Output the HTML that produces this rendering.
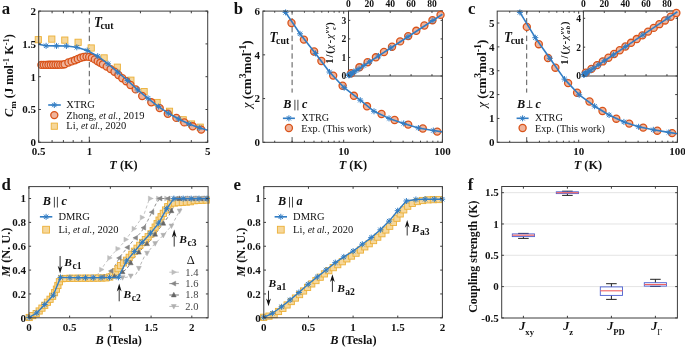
<!DOCTYPE html>
<html><head><meta charset="utf-8"><style>
html,body{margin:0;padding:0;background:#fff;}
body{width:685px;height:347px;overflow:hidden;font-family:"Liberation Serif",serif;}
svg{display:block;filter:blur(0.3px);}
</style></head><body>
<svg width="685" height="347" viewBox="0 0 685 347" font-family="'Liberation Serif', serif">
<rect width="685" height="347" fill="#fff"/>
<line x1="89.3" y1="11.1" x2="89.3" y2="142.3" stroke="#555" stroke-width="1.0" stroke-dasharray="5.4,3.4" stroke-dashoffset="1.8"/>
<rect x="35.2" y="36.6" width="6.2" height="6.2" fill="#f6d79a" stroke="#ebb038" stroke-width="0.9"/>
<rect x="48.7" y="36" width="6.2" height="6.2" fill="#f6d79a" stroke="#ebb038" stroke-width="0.9"/>
<rect x="61.7" y="37" width="6.2" height="6.2" fill="#f6d79a" stroke="#ebb038" stroke-width="0.9"/>
<rect x="75" y="39.2" width="6.2" height="6.2" fill="#f6d79a" stroke="#ebb038" stroke-width="0.9"/>
<rect x="88.1" y="44.9" width="6.2" height="6.2" fill="#f6d79a" stroke="#ebb038" stroke-width="0.9"/>
<rect x="101" y="54.8" width="6.2" height="6.2" fill="#f6d79a" stroke="#ebb038" stroke-width="0.9"/>
<rect x="114.2" y="64.1" width="6.2" height="6.2" fill="#f6d79a" stroke="#ebb038" stroke-width="0.9"/>
<rect x="127.8" y="77.1" width="6.2" height="6.2" fill="#f6d79a" stroke="#ebb038" stroke-width="0.9"/>
<rect x="141" y="88.5" width="6.2" height="6.2" fill="#f6d79a" stroke="#ebb038" stroke-width="0.9"/>
<rect x="154" y="99.4" width="6.2" height="6.2" fill="#f6d79a" stroke="#ebb038" stroke-width="0.9"/>
<rect x="166.4" y="108.2" width="6.2" height="6.2" fill="#f6d79a" stroke="#ebb038" stroke-width="0.9"/>
<rect x="180.1" y="116.7" width="6.2" height="6.2" fill="#f6d79a" stroke="#ebb038" stroke-width="0.9"/>
<rect x="188.4" y="120.9" width="6.2" height="6.2" fill="#f6d79a" stroke="#ebb038" stroke-width="0.9"/>
<rect x="197.1" y="124.1" width="6.2" height="6.2" fill="#f6d79a" stroke="#ebb038" stroke-width="0.9"/>
<circle cx="41.4" cy="64.9" r="3.55" fill="#efb49c" stroke="#d95319" stroke-width="1.3"/>
<circle cx="43.75" cy="64.87" r="3.55" fill="#efb49c" stroke="#d95319" stroke-width="1.3"/>
<circle cx="46.1" cy="64.84" r="3.55" fill="#efb49c" stroke="#d95319" stroke-width="1.3"/>
<circle cx="48.45" cy="64.81" r="3.55" fill="#efb49c" stroke="#d95319" stroke-width="1.3"/>
<circle cx="50.8" cy="64.78" r="3.55" fill="#efb49c" stroke="#d95319" stroke-width="1.3"/>
<circle cx="53.15" cy="64.75" r="3.55" fill="#efb49c" stroke="#d95319" stroke-width="1.3"/>
<circle cx="55.5" cy="64.72" r="3.55" fill="#efb49c" stroke="#d95319" stroke-width="1.3"/>
<circle cx="57.85" cy="64.69" r="3.55" fill="#efb49c" stroke="#d95319" stroke-width="1.3"/>
<circle cx="60.2" cy="64.66" r="3.55" fill="#efb49c" stroke="#d95319" stroke-width="1.3"/>
<circle cx="62.55" cy="64.63" r="3.55" fill="#efb49c" stroke="#d95319" stroke-width="1.3"/>
<circle cx="64.6" cy="64.2" r="3.55" fill="#efb49c" stroke="#d95319" stroke-width="1.3"/>
<circle cx="68.4" cy="62.5" r="3.55" fill="#efb49c" stroke="#d95319" stroke-width="1.3"/>
<circle cx="71.6" cy="61.4" r="3.55" fill="#efb49c" stroke="#d95319" stroke-width="1.3"/>
<circle cx="74.9" cy="60.3" r="3.55" fill="#efb49c" stroke="#d95319" stroke-width="1.3"/>
<circle cx="77.8" cy="59" r="3.55" fill="#efb49c" stroke="#d95319" stroke-width="1.3"/>
<circle cx="80.7" cy="57.8" r="3.55" fill="#efb49c" stroke="#d95319" stroke-width="1.3"/>
<circle cx="83.6" cy="57" r="3.55" fill="#efb49c" stroke="#d95319" stroke-width="1.3"/>
<circle cx="86.5" cy="56.6" r="3.55" fill="#efb49c" stroke="#d95319" stroke-width="1.3"/>
<circle cx="89.2" cy="56.9" r="3.55" fill="#efb49c" stroke="#d95319" stroke-width="1.3"/>
<circle cx="91.9" cy="57.8" r="3.55" fill="#efb49c" stroke="#d95319" stroke-width="1.3"/>
<circle cx="94.8" cy="59.4" r="3.55" fill="#efb49c" stroke="#d95319" stroke-width="1.3"/>
<circle cx="97.7" cy="61.2" r="3.55" fill="#efb49c" stroke="#d95319" stroke-width="1.3"/>
<circle cx="100.3" cy="62.8" r="3.55" fill="#efb49c" stroke="#d95319" stroke-width="1.3"/>
<circle cx="102.9" cy="64.3" r="3.55" fill="#efb49c" stroke="#d95319" stroke-width="1.3"/>
<circle cx="106.7" cy="66.6" r="3.55" fill="#efb49c" stroke="#d95319" stroke-width="1.3"/>
<circle cx="110.6" cy="69.1" r="3.55" fill="#efb49c" stroke="#d95319" stroke-width="1.3"/>
<circle cx="114.5" cy="71.7" r="3.55" fill="#efb49c" stroke="#d95319" stroke-width="1.3"/>
<circle cx="118.4" cy="75" r="3.55" fill="#efb49c" stroke="#d95319" stroke-width="1.3"/>
<circle cx="122.3" cy="78.2" r="3.55" fill="#efb49c" stroke="#d95319" stroke-width="1.3"/>
<circle cx="126.2" cy="81.2" r="3.55" fill="#efb49c" stroke="#d95319" stroke-width="1.3"/>
<circle cx="130.5" cy="85" r="3.55" fill="#efb49c" stroke="#d95319" stroke-width="1.3"/>
<circle cx="135.7" cy="89.4" r="3.55" fill="#efb49c" stroke="#d95319" stroke-width="1.3"/>
<circle cx="142.2" cy="96" r="3.55" fill="#efb49c" stroke="#d95319" stroke-width="1.3"/>
<circle cx="151.3" cy="102.3" r="3.55" fill="#efb49c" stroke="#d95319" stroke-width="1.3"/>
<circle cx="159.7" cy="108.1" r="3.55" fill="#efb49c" stroke="#d95319" stroke-width="1.3"/>
<circle cx="167.8" cy="113.8" r="3.55" fill="#efb49c" stroke="#d95319" stroke-width="1.3"/>
<circle cx="176.4" cy="117.9" r="3.55" fill="#efb49c" stroke="#d95319" stroke-width="1.3"/>
<circle cx="184.3" cy="122.4" r="3.55" fill="#efb49c" stroke="#d95319" stroke-width="1.3"/>
<circle cx="192.7" cy="126.3" r="3.55" fill="#efb49c" stroke="#d95319" stroke-width="1.3"/>
<circle cx="201.2" cy="129.6" r="3.55" fill="#efb49c" stroke="#d95319" stroke-width="1.3"/>
<polyline points="38.5,44.2 46.1,45.8 56.5,45.9 66.4,46 76.8,47.3 87.2,50.5 97.7,56.2 108,63.8 117.7,72.1 127.6,80.5 137.7,89.9 148,98.3 158.4,106.6 168.3,113.2 178.7,119 189,124 199.2,127.8 207.8,130.3" fill="none" stroke="#327dc4" stroke-width="1.6" stroke-linejoin="round" />
<path d="M43.1,45.8h6M46.1,42.8v6M43.94,43.64l4.32,4.32M43.94,47.96l4.32,-4.32" stroke="#327dc4" stroke-width="1.0" fill="none"/>
<path d="M53.5,45.9h6M56.5,42.9v6M54.34,43.74l4.32,4.32M54.34,48.06l4.32,-4.32" stroke="#327dc4" stroke-width="1.0" fill="none"/>
<path d="M63.4,46h6M66.4,43v6M64.24,43.84l4.32,4.32M64.24,48.16l4.32,-4.32" stroke="#327dc4" stroke-width="1.0" fill="none"/>
<path d="M73.8,47.3h6M76.8,44.3v6M74.64,45.14l4.32,4.32M74.64,49.46l4.32,-4.32" stroke="#327dc4" stroke-width="1.0" fill="none"/>
<path d="M84.2,50.5h6M87.2,47.5v6M85.04,48.34l4.32,4.32M85.04,52.66l4.32,-4.32" stroke="#327dc4" stroke-width="1.0" fill="none"/>
<path d="M94.7,56.2h6M97.7,53.2v6M95.54,54.04l4.32,4.32M95.54,58.36l4.32,-4.32" stroke="#327dc4" stroke-width="1.0" fill="none"/>
<path d="M105,63.8h6M108,60.8v6M105.84,61.64l4.32,4.32M105.84,65.96l4.32,-4.32" stroke="#327dc4" stroke-width="1.0" fill="none"/>
<path d="M114.7,72.1h6M117.7,69.1v6M115.54,69.94l4.32,4.32M115.54,74.26l4.32,-4.32" stroke="#327dc4" stroke-width="1.0" fill="none"/>
<path d="M124.6,80.5h6M127.6,77.5v6M125.44,78.34l4.32,4.32M125.44,82.66l4.32,-4.32" stroke="#327dc4" stroke-width="1.0" fill="none"/>
<path d="M134.7,89.9h6M137.7,86.9v6M135.54,87.74l4.32,4.32M135.54,92.06l4.32,-4.32" stroke="#327dc4" stroke-width="1.0" fill="none"/>
<path d="M145,98.3h6M148,95.3v6M145.84,96.14l4.32,4.32M145.84,100.46l4.32,-4.32" stroke="#327dc4" stroke-width="1.0" fill="none"/>
<path d="M155.4,106.6h6M158.4,103.6v6M156.24,104.44l4.32,4.32M156.24,108.76l4.32,-4.32" stroke="#327dc4" stroke-width="1.0" fill="none"/>
<path d="M165.3,113.2h6M168.3,110.2v6M166.14,111.04l4.32,4.32M166.14,115.36l4.32,-4.32" stroke="#327dc4" stroke-width="1.0" fill="none"/>
<path d="M175.7,119h6M178.7,116v6M176.54,116.84l4.32,4.32M176.54,121.16l4.32,-4.32" stroke="#327dc4" stroke-width="1.0" fill="none"/>
<path d="M186,124h6M189,121v6M186.84,121.84l4.32,4.32M186.84,126.16l4.32,-4.32" stroke="#327dc4" stroke-width="1.0" fill="none"/>
<path d="M196.2,127.8h6M199.2,124.8v6M197.04,125.64l4.32,4.32M197.04,129.96l4.32,-4.32" stroke="#327dc4" stroke-width="1.0" fill="none"/>
<rect x="86" y="94.6" width="6" height="42" fill="#fff"/>
<line x1="89.3" y1="137.2" x2="89.3" y2="142" stroke="#555" stroke-width="1.0" />
<rect x="38.7" y="11.1" width="169" height="131.2" fill="none" stroke="#3c3c3c" stroke-width="1.0"/>
<line x1="38.7" y1="142.3" x2="38.7" y2="140.1" stroke="#3c3c3c" stroke-width="1.0" />
<line x1="38.7" y1="11.1" x2="38.7" y2="13.3" stroke="#3c3c3c" stroke-width="1.0" />
<line x1="52.08" y1="142.3" x2="52.08" y2="140.1" stroke="#3c3c3c" stroke-width="1.0" />
<line x1="52.08" y1="11.1" x2="52.08" y2="13.3" stroke="#3c3c3c" stroke-width="1.0" />
<line x1="63.4" y1="142.3" x2="63.4" y2="140.1" stroke="#3c3c3c" stroke-width="1.0" />
<line x1="63.4" y1="11.1" x2="63.4" y2="13.3" stroke="#3c3c3c" stroke-width="1.0" />
<line x1="73.2" y1="142.3" x2="73.2" y2="140.1" stroke="#3c3c3c" stroke-width="1.0" />
<line x1="73.2" y1="11.1" x2="73.2" y2="13.3" stroke="#3c3c3c" stroke-width="1.0" />
<line x1="81.84" y1="142.3" x2="81.84" y2="140.1" stroke="#3c3c3c" stroke-width="1.0" />
<line x1="81.84" y1="11.1" x2="81.84" y2="13.3" stroke="#3c3c3c" stroke-width="1.0" />
<line x1="89.57" y1="142.3" x2="89.57" y2="140.1" stroke="#3c3c3c" stroke-width="1.0" />
<line x1="89.57" y1="11.1" x2="89.57" y2="13.3" stroke="#3c3c3c" stroke-width="1.0" />
<line x1="140.45" y1="142.3" x2="140.45" y2="140.1" stroke="#3c3c3c" stroke-width="1.0" />
<line x1="140.45" y1="11.1" x2="140.45" y2="13.3" stroke="#3c3c3c" stroke-width="1.0" />
<line x1="170.21" y1="142.3" x2="170.21" y2="140.1" stroke="#3c3c3c" stroke-width="1.0" />
<line x1="170.21" y1="11.1" x2="170.21" y2="13.3" stroke="#3c3c3c" stroke-width="1.0" />
<line x1="191.32" y1="142.3" x2="191.32" y2="140.1" stroke="#3c3c3c" stroke-width="1.0" />
<line x1="191.32" y1="11.1" x2="191.32" y2="13.3" stroke="#3c3c3c" stroke-width="1.0" />
<line x1="207.7" y1="142.3" x2="207.7" y2="140.1" stroke="#3c3c3c" stroke-width="1.0" />
<line x1="207.7" y1="11.1" x2="207.7" y2="13.3" stroke="#3c3c3c" stroke-width="1.0" />
<line x1="38.7" y1="142.3" x2="40.9" y2="142.3" stroke="#3c3c3c" stroke-width="1.0" />
<line x1="207.7" y1="142.3" x2="205.5" y2="142.3" stroke="#3c3c3c" stroke-width="1.0" />
<line x1="38.7" y1="109.5" x2="40.9" y2="109.5" stroke="#3c3c3c" stroke-width="1.0" />
<line x1="207.7" y1="109.5" x2="205.5" y2="109.5" stroke="#3c3c3c" stroke-width="1.0" />
<line x1="38.7" y1="76.7" x2="40.9" y2="76.7" stroke="#3c3c3c" stroke-width="1.0" />
<line x1="207.7" y1="76.7" x2="205.5" y2="76.7" stroke="#3c3c3c" stroke-width="1.0" />
<line x1="38.7" y1="43.9" x2="40.9" y2="43.9" stroke="#3c3c3c" stroke-width="1.0" />
<line x1="207.7" y1="43.9" x2="205.5" y2="43.9" stroke="#3c3c3c" stroke-width="1.0" />
<line x1="38.7" y1="11.1" x2="40.9" y2="11.1" stroke="#3c3c3c" stroke-width="1.0" />
<line x1="207.7" y1="11.1" x2="205.5" y2="11.1" stroke="#3c3c3c" stroke-width="1.0" />
<text x="38.7" y="155" font-size="11" text-anchor="middle" font-weight="bold" font-style="normal" fill="#111" >0.5</text>
<text x="89.57" y="155" font-size="11" text-anchor="middle" font-weight="bold" font-style="normal" fill="#111" >1</text>
<text x="207.7" y="155" font-size="11" text-anchor="middle" font-weight="bold" font-style="normal" fill="#111" >5</text>
<text x="35.9" y="146.1" font-size="11" text-anchor="end" font-weight="bold" font-style="normal" fill="#111" >0</text>
<text x="35.9" y="113.3" font-size="11" text-anchor="end" font-weight="bold" font-style="normal" fill="#111" >0.5</text>
<text x="35.9" y="80.5" font-size="11" text-anchor="end" font-weight="bold" font-style="normal" fill="#111" >1</text>
<text x="35.9" y="47.7" font-size="11" text-anchor="end" font-weight="bold" font-style="normal" fill="#111" >1.5</text>
<text x="35.9" y="14.9" font-size="11" text-anchor="end" font-weight="bold" font-style="normal" fill="#111" >2</text>
<polyline points="48.2,105 60.8,105" fill="none" stroke="#327dc4" stroke-width="1.6" stroke-linejoin="round" />
<path d="M51.3,105h6M54.3,102v6M52.14,102.84l4.32,4.32M52.14,107.16l4.32,-4.32" stroke="#327dc4" stroke-width="1.0" fill="none"/>
<circle cx="54.3" cy="115.1" r="3.55" fill="#efb49c" stroke="#d95319" stroke-width="1.3"/>
<rect x="51.2" y="123.1" width="6.2" height="6.2" fill="#f6d79a" stroke="#ebb038" stroke-width="0.9"/>
<text x="66.3" y="108.3" font-size="10.5" text-anchor="start" font-weight="normal" font-style="normal" fill="#111" >XTRG</text>
<text x="66.3" y="118.7" font-size="10.5" text-anchor="start" font-weight="normal" font-style="normal" fill="#111" >Zhong, <tspan font-style="italic" font-size="9.6">et al.</tspan>, 2019</text>
<text x="66.3" y="128.9" font-size="10.5" text-anchor="start" font-weight="normal" font-style="normal" fill="#111" >Li, <tspan font-style="italic" font-size="9.6">et al.</tspan>, 2020</text>
<text transform="translate(93.9,26.7) scale(0.87,1)" font-size="15" font-weight="bold" font-style="italic" fill="#111">T</text>
<text x="100.5" y="28.9" font-size="9.8" text-anchor="start" font-weight="bold" font-style="normal" fill="#111" >cut</text>
<text x="1.8" y="14" font-size="16.8" text-anchor="start" font-weight="bold" font-style="normal" fill="#111" >a</text>
<text x="123.5" y="168.6" font-size="12.3" text-anchor="middle" font-weight="bold" font-style="normal" fill="#111" ><tspan font-style="italic">T</tspan> (K)</text>
<text transform="translate(13.2,75.5) rotate(-90)" font-size="12.3" font-weight="bold" text-anchor="middle" fill="#111"><tspan font-style="italic">C</tspan><tspan font-size="9" dy="2.8">m</tspan><tspan dy="-2.8"> (J mol</tspan><tspan font-size="8.5" dy="-4.5">-1</tspan><tspan dy="4.5"> K</tspan><tspan font-size="8.5" dy="-4.5">-1</tspan><tspan dy="4.5">)</tspan></text>
<line x1="292.1" y1="11.1" x2="292.1" y2="142.3" stroke="#555" stroke-width="1.0" stroke-dasharray="5.4,3.4" stroke-dashoffset="1.8"/>
<circle cx="291.5" cy="23" r="3.55" fill="#efb49c" stroke="#d95319" stroke-width="1.3"/>
<circle cx="303.9" cy="39.6" r="3.55" fill="#efb49c" stroke="#d95319" stroke-width="1.3"/>
<circle cx="314.1" cy="51.5" r="3.55" fill="#efb49c" stroke="#d95319" stroke-width="1.3"/>
<circle cx="321.4" cy="61" r="3.55" fill="#efb49c" stroke="#d95319" stroke-width="1.3"/>
<circle cx="333.2" cy="75.6" r="3.55" fill="#efb49c" stroke="#d95319" stroke-width="1.3"/>
<circle cx="342.6" cy="85.7" r="3.55" fill="#efb49c" stroke="#d95319" stroke-width="1.3"/>
<circle cx="353.9" cy="95.8" r="3.55" fill="#efb49c" stroke="#d95319" stroke-width="1.3"/>
<circle cx="367" cy="106.3" r="3.55" fill="#efb49c" stroke="#d95319" stroke-width="1.3"/>
<circle cx="381.5" cy="114" r="3.55" fill="#efb49c" stroke="#d95319" stroke-width="1.3"/>
<circle cx="394.6" cy="120" r="3.55" fill="#efb49c" stroke="#d95319" stroke-width="1.3"/>
<circle cx="408.2" cy="124.6" r="3.55" fill="#efb49c" stroke="#d95319" stroke-width="1.3"/>
<circle cx="422.8" cy="128.5" r="3.55" fill="#efb49c" stroke="#d95319" stroke-width="1.3"/>
<circle cx="437.2" cy="131.6" r="3.55" fill="#efb49c" stroke="#d95319" stroke-width="1.3"/>
<polyline points="283.9,10.8 285.6,12.4 300,33.8 315.5,53.4 329.5,72 344.2,87.7 360.3,100.2 374,111.3 389,118.4 403.7,123.4 418.4,128 433.3,130.5 442.4,131.88" fill="none" stroke="#327dc4" stroke-width="1.6" stroke-linejoin="round" />
<path d="M282.6,12.4h6M285.6,9.4v6M283.44,10.24l4.32,4.32M283.44,14.56l4.32,-4.32" stroke="#327dc4" stroke-width="1.0" fill="none"/>
<path d="M297,33.8h6M300,30.8v6M297.84,31.64l4.32,4.32M297.84,35.96l4.32,-4.32" stroke="#327dc4" stroke-width="1.0" fill="none"/>
<path d="M312.5,53.4h6M315.5,50.4v6M313.34,51.24l4.32,4.32M313.34,55.56l4.32,-4.32" stroke="#327dc4" stroke-width="1.0" fill="none"/>
<path d="M326.5,72h6M329.5,69v6M327.34,69.84l4.32,4.32M327.34,74.16l4.32,-4.32" stroke="#327dc4" stroke-width="1.0" fill="none"/>
<path d="M341.2,87.7h6M344.2,84.7v6M342.04,85.54l4.32,4.32M342.04,89.86l4.32,-4.32" stroke="#327dc4" stroke-width="1.0" fill="none"/>
<path d="M357.3,100.2h6M360.3,97.2v6M358.14,98.04l4.32,4.32M358.14,102.36l4.32,-4.32" stroke="#327dc4" stroke-width="1.0" fill="none"/>
<path d="M371,111.3h6M374,108.3v6M371.84,109.14l4.32,4.32M371.84,113.46l4.32,-4.32" stroke="#327dc4" stroke-width="1.0" fill="none"/>
<path d="M386,118.4h6M389,115.4v6M386.84,116.24l4.32,4.32M386.84,120.56l4.32,-4.32" stroke="#327dc4" stroke-width="1.0" fill="none"/>
<path d="M400.7,123.4h6M403.7,120.4v6M401.54,121.24l4.32,4.32M401.54,125.56l4.32,-4.32" stroke="#327dc4" stroke-width="1.0" fill="none"/>
<path d="M415.4,128h6M418.4,125v6M416.24,125.84l4.32,4.32M416.24,130.16l4.32,-4.32" stroke="#327dc4" stroke-width="1.0" fill="none"/>
<path d="M430.3,130.5h6M433.3,127.5v6M431.14,128.34l4.32,4.32M431.14,132.66l4.32,-4.32" stroke="#327dc4" stroke-width="1.0" fill="none"/>
<rect x="289.1" y="92.6" width="6" height="45" fill="#fff"/>
<line x1="292.1" y1="137.3" x2="292.1" y2="142" stroke="#555" stroke-width="1.0" />
<rect x="262.9" y="11.1" width="179.5" height="131.2" fill="none" stroke="#3c3c3c" stroke-width="1.0"/>
<line x1="274.71" y1="142.3" x2="274.71" y2="140.7" stroke="#3c3c3c" stroke-width="1.0" />
<line x1="274.71" y1="11.1" x2="274.71" y2="12.7" stroke="#3c3c3c" stroke-width="1.0" />
<line x1="292.09" y1="142.3" x2="292.09" y2="140.7" stroke="#3c3c3c" stroke-width="1.0" />
<line x1="292.09" y1="11.1" x2="292.09" y2="12.7" stroke="#3c3c3c" stroke-width="1.0" />
<line x1="304.42" y1="142.3" x2="304.42" y2="140.7" stroke="#3c3c3c" stroke-width="1.0" />
<line x1="304.42" y1="11.1" x2="304.42" y2="12.7" stroke="#3c3c3c" stroke-width="1.0" />
<line x1="313.99" y1="142.3" x2="313.99" y2="140.7" stroke="#3c3c3c" stroke-width="1.0" />
<line x1="313.99" y1="11.1" x2="313.99" y2="12.7" stroke="#3c3c3c" stroke-width="1.0" />
<line x1="321.8" y1="142.3" x2="321.8" y2="140.7" stroke="#3c3c3c" stroke-width="1.0" />
<line x1="321.8" y1="11.1" x2="321.8" y2="12.7" stroke="#3c3c3c" stroke-width="1.0" />
<line x1="328.41" y1="142.3" x2="328.41" y2="140.7" stroke="#3c3c3c" stroke-width="1.0" />
<line x1="328.41" y1="11.1" x2="328.41" y2="12.7" stroke="#3c3c3c" stroke-width="1.0" />
<line x1="334.13" y1="142.3" x2="334.13" y2="140.7" stroke="#3c3c3c" stroke-width="1.0" />
<line x1="334.13" y1="11.1" x2="334.13" y2="12.7" stroke="#3c3c3c" stroke-width="1.0" />
<line x1="339.18" y1="142.3" x2="339.18" y2="140.7" stroke="#3c3c3c" stroke-width="1.0" />
<line x1="339.18" y1="11.1" x2="339.18" y2="12.7" stroke="#3c3c3c" stroke-width="1.0" />
<line x1="373.41" y1="142.3" x2="373.41" y2="140.7" stroke="#3c3c3c" stroke-width="1.0" />
<line x1="373.41" y1="11.1" x2="373.41" y2="12.7" stroke="#3c3c3c" stroke-width="1.0" />
<line x1="390.79" y1="142.3" x2="390.79" y2="140.7" stroke="#3c3c3c" stroke-width="1.0" />
<line x1="390.79" y1="11.1" x2="390.79" y2="12.7" stroke="#3c3c3c" stroke-width="1.0" />
<line x1="403.12" y1="142.3" x2="403.12" y2="140.7" stroke="#3c3c3c" stroke-width="1.0" />
<line x1="403.12" y1="11.1" x2="403.12" y2="12.7" stroke="#3c3c3c" stroke-width="1.0" />
<line x1="412.69" y1="142.3" x2="412.69" y2="140.7" stroke="#3c3c3c" stroke-width="1.0" />
<line x1="412.69" y1="11.1" x2="412.69" y2="12.7" stroke="#3c3c3c" stroke-width="1.0" />
<line x1="420.5" y1="142.3" x2="420.5" y2="140.7" stroke="#3c3c3c" stroke-width="1.0" />
<line x1="420.5" y1="11.1" x2="420.5" y2="12.7" stroke="#3c3c3c" stroke-width="1.0" />
<line x1="427.11" y1="142.3" x2="427.11" y2="140.7" stroke="#3c3c3c" stroke-width="1.0" />
<line x1="427.11" y1="11.1" x2="427.11" y2="12.7" stroke="#3c3c3c" stroke-width="1.0" />
<line x1="432.83" y1="142.3" x2="432.83" y2="140.7" stroke="#3c3c3c" stroke-width="1.0" />
<line x1="432.83" y1="11.1" x2="432.83" y2="12.7" stroke="#3c3c3c" stroke-width="1.0" />
<line x1="437.88" y1="142.3" x2="437.88" y2="140.7" stroke="#3c3c3c" stroke-width="1.0" />
<line x1="437.88" y1="11.1" x2="437.88" y2="12.7" stroke="#3c3c3c" stroke-width="1.0" />
<line x1="343.7" y1="142.3" x2="343.7" y2="139.7" stroke="#3c3c3c" stroke-width="1.0" />
<line x1="343.7" y1="11.1" x2="343.7" y2="13.7" stroke="#3c3c3c" stroke-width="1.0" />
<line x1="442.4" y1="142.3" x2="442.4" y2="139.7" stroke="#3c3c3c" stroke-width="1.0" />
<line x1="442.4" y1="11.1" x2="442.4" y2="13.7" stroke="#3c3c3c" stroke-width="1.0" />
<line x1="262.9" y1="142.3" x2="265.1" y2="142.3" stroke="#3c3c3c" stroke-width="1.0" />
<line x1="442.4" y1="142.3" x2="440.2" y2="142.3" stroke="#3c3c3c" stroke-width="1.0" />
<line x1="262.9" y1="98.57" x2="265.1" y2="98.57" stroke="#3c3c3c" stroke-width="1.0" />
<line x1="442.4" y1="98.57" x2="440.2" y2="98.57" stroke="#3c3c3c" stroke-width="1.0" />
<line x1="262.9" y1="54.83" x2="265.1" y2="54.83" stroke="#3c3c3c" stroke-width="1.0" />
<line x1="442.4" y1="54.83" x2="440.2" y2="54.83" stroke="#3c3c3c" stroke-width="1.0" />
<line x1="262.9" y1="11.1" x2="265.1" y2="11.1" stroke="#3c3c3c" stroke-width="1.0" />
<line x1="442.4" y1="11.1" x2="440.2" y2="11.1" stroke="#3c3c3c" stroke-width="1.0" />
<text x="343.7" y="155.3" font-size="11" text-anchor="middle" font-weight="bold" font-style="normal" fill="#111" >10</text>
<text x="442.4" y="155.3" font-size="11" text-anchor="middle" font-weight="bold" font-style="normal" fill="#111" >100</text>
<text x="260.1" y="146.1" font-size="11" text-anchor="end" font-weight="bold" font-style="normal" fill="#111" >0</text>
<text x="260.1" y="102.37" font-size="11" text-anchor="end" font-weight="bold" font-style="normal" fill="#111" >2</text>
<text x="260.1" y="58.63" font-size="11" text-anchor="end" font-weight="bold" font-style="normal" fill="#111" >4</text>
<text x="260.1" y="14.9" font-size="11" text-anchor="end" font-weight="bold" font-style="normal" fill="#111" >6</text>
<text x="352.9" y="168.6" font-size="12.3" text-anchor="middle" font-weight="bold" font-style="normal" fill="#111" ><tspan font-style="italic">T</tspan> (K)</text>
<text transform="translate(269.5,41.8) scale(0.87,1)" font-size="15" font-weight="bold" font-style="italic" fill="#111">T</text>
<text x="276.1" y="44" font-size="9.8" text-anchor="start" font-weight="bold" font-style="normal" fill="#111" >cut</text>
<text x="283.3" y="107.8" font-size="12.2" text-anchor="start" font-weight="bold" font-style="italic" fill="#111" >B</text>
<line x1="294.9" y1="99.8" x2="294.9" y2="110.4" stroke="#333" stroke-width="0.9" />
<line x1="297.9" y1="99.8" x2="297.9" y2="110.4" stroke="#333" stroke-width="0.9" />
<text x="301.9" y="107.8" font-size="12.2" text-anchor="start" font-weight="bold" font-style="italic" fill="#111" >c</text>
<polyline points="282.9,118.3 294.9,118.3" fill="none" stroke="#327dc4" stroke-width="1.6" stroke-linejoin="round" />
<path d="M285.9,118.3h6M288.9,115.3v6M286.74,116.14l4.32,4.32M286.74,120.46l4.32,-4.32" stroke="#327dc4" stroke-width="1.0" fill="none"/>
<circle cx="288.9" cy="128" r="3.55" fill="#efb49c" stroke="#d95319" stroke-width="1.3"/>
<text x="301.3" y="121.2" font-size="10.2" text-anchor="start" font-weight="normal" font-style="normal" fill="#111" >XTRG</text>
<text x="301.3" y="131.6" font-size="10.2" text-anchor="start" font-weight="normal" font-style="normal" fill="#111" >Exp. (This work)</text>
<text x="233.7" y="14.2" font-size="16.8" text-anchor="start" font-weight="bold" font-style="normal" fill="#111" >b</text>
<text transform="translate(251.2,74.3) rotate(-90)" font-size="13" font-weight="bold" text-anchor="middle" fill="#111"><tspan font-style="italic" font-weight="normal" font-size="13">χ</tspan> (cm<tspan font-size="9.5" dy="-5">3</tspan><tspan dy="5">mol</tspan><tspan font-size="9.5" dy="-5">-1</tspan><tspan dy="5">)</tspan></text>
<rect x="348.5" y="11.1" width="93.9" height="64.9" fill="#fff" stroke="#3c3c3c" stroke-width="1.0"/>
<circle cx="351.2" cy="73.3" r="3.55" fill="#efb49c" stroke="#d95319" stroke-width="1.3"/>
<circle cx="359.4" cy="67.3" r="3.55" fill="#efb49c" stroke="#d95319" stroke-width="1.3"/>
<circle cx="367.6" cy="62.2" r="3.55" fill="#efb49c" stroke="#d95319" stroke-width="1.3"/>
<circle cx="375.9" cy="57.3" r="3.55" fill="#efb49c" stroke="#d95319" stroke-width="1.3"/>
<circle cx="383.98" cy="52" r="3.55" fill="#efb49c" stroke="#d95319" stroke-width="1.3"/>
<circle cx="392.06" cy="46.7" r="3.55" fill="#efb49c" stroke="#d95319" stroke-width="1.3"/>
<circle cx="400.14" cy="41.4" r="3.55" fill="#efb49c" stroke="#d95319" stroke-width="1.3"/>
<circle cx="408.22" cy="36.1" r="3.55" fill="#efb49c" stroke="#d95319" stroke-width="1.3"/>
<circle cx="416.3" cy="30.8" r="3.55" fill="#efb49c" stroke="#d95319" stroke-width="1.3"/>
<circle cx="424.38" cy="25.5" r="3.55" fill="#efb49c" stroke="#d95319" stroke-width="1.3"/>
<circle cx="432.46" cy="20.2" r="3.55" fill="#efb49c" stroke="#d95319" stroke-width="1.3"/>
<circle cx="440.54" cy="14.9" r="3.55" fill="#efb49c" stroke="#d95319" stroke-width="1.3"/>
<polyline points="348.5,75.53 348.81,75.33 349.13,75.12 349.54,74.85 350.06,74.51 350.59,74.17 351.19,73.78 352.26,73.08 353.89,72.01 356.01,70.63 359.04,68.66 363.84,65.53 369.68,61.72 378.55,55.93 390.75,47.97 407.97,36.74 432.91,20.48 442.4,14.29" fill="none" stroke="#327dc4" stroke-width="1.6" stroke-linejoin="round" />
<path d="M345.81,75.33h6M348.81,72.33v6M346.65,73.17l4.32,4.32M346.65,77.49l4.32,-4.32" stroke="#327dc4" stroke-width="1.0" fill="none"/>
<path d="M346.13,75.12h6M349.13,72.12v6M346.97,72.96l4.32,4.32M346.97,77.28l4.32,-4.32" stroke="#327dc4" stroke-width="1.0" fill="none"/>
<path d="M346.54,74.85h6M349.54,71.85v6M347.38,72.69l4.32,4.32M347.38,77.01l4.32,-4.32" stroke="#327dc4" stroke-width="1.0" fill="none"/>
<path d="M347.06,74.51h6M350.06,71.51v6M347.9,72.35l4.32,4.32M347.9,76.67l4.32,-4.32" stroke="#327dc4" stroke-width="1.0" fill="none"/>
<path d="M347.59,74.17h6M350.59,71.17v6M348.43,72.01l4.32,4.32M348.43,76.33l4.32,-4.32" stroke="#327dc4" stroke-width="1.0" fill="none"/>
<path d="M348.19,73.78h6M351.19,70.78v6M349.03,71.62l4.32,4.32M349.03,75.94l4.32,-4.32" stroke="#327dc4" stroke-width="1.0" fill="none"/>
<path d="M349.26,73.08h6M352.26,70.08v6M350.1,70.92l4.32,4.32M350.1,75.24l4.32,-4.32" stroke="#327dc4" stroke-width="1.0" fill="none"/>
<path d="M350.89,72.01h6M353.89,69.01v6M351.73,69.85l4.32,4.32M351.73,74.17l4.32,-4.32" stroke="#327dc4" stroke-width="1.0" fill="none"/>
<path d="M353.01,70.63h6M356.01,67.63v6M353.85,68.47l4.32,4.32M353.85,72.79l4.32,-4.32" stroke="#327dc4" stroke-width="1.0" fill="none"/>
<path d="M356.04,68.66h6M359.04,65.66v6M356.88,66.5l4.32,4.32M356.88,70.82l4.32,-4.32" stroke="#327dc4" stroke-width="1.0" fill="none"/>
<path d="M360.84,65.53h6M363.84,62.53v6M361.68,63.37l4.32,4.32M361.68,67.69l4.32,-4.32" stroke="#327dc4" stroke-width="1.0" fill="none"/>
<path d="M366.68,61.72h6M369.68,58.72v6M367.52,59.56l4.32,4.32M367.52,63.88l4.32,-4.32" stroke="#327dc4" stroke-width="1.0" fill="none"/>
<path d="M375.55,55.93h6M378.55,52.93v6M376.39,53.77l4.32,4.32M376.39,58.09l4.32,-4.32" stroke="#327dc4" stroke-width="1.0" fill="none"/>
<path d="M387.75,47.97h6M390.75,44.97v6M388.59,45.81l4.32,4.32M388.59,50.13l4.32,-4.32" stroke="#327dc4" stroke-width="1.0" fill="none"/>
<path d="M404.97,36.74h6M407.97,33.74v6M405.81,34.58l4.32,4.32M405.81,38.9l4.32,-4.32" stroke="#327dc4" stroke-width="1.0" fill="none"/>
<path d="M429.91,20.48h6M432.91,17.48v6M430.75,18.32l4.32,4.32M430.75,22.64l4.32,-4.32" stroke="#327dc4" stroke-width="1.0" fill="none"/>
<line x1="348.5" y1="76" x2="348.5" y2="74.2" stroke="#3c3c3c" stroke-width="1.0" />
<line x1="348.5" y1="11.1" x2="348.5" y2="12.9" stroke="#3c3c3c" stroke-width="1.0" />
<line x1="369.37" y1="76" x2="369.37" y2="74.2" stroke="#3c3c3c" stroke-width="1.0" />
<line x1="369.37" y1="11.1" x2="369.37" y2="12.9" stroke="#3c3c3c" stroke-width="1.0" />
<line x1="390.23" y1="76" x2="390.23" y2="74.2" stroke="#3c3c3c" stroke-width="1.0" />
<line x1="390.23" y1="11.1" x2="390.23" y2="12.9" stroke="#3c3c3c" stroke-width="1.0" />
<line x1="411.1" y1="76" x2="411.1" y2="74.2" stroke="#3c3c3c" stroke-width="1.0" />
<line x1="411.1" y1="11.1" x2="411.1" y2="12.9" stroke="#3c3c3c" stroke-width="1.0" />
<line x1="431.97" y1="76" x2="431.97" y2="74.2" stroke="#3c3c3c" stroke-width="1.0" />
<line x1="431.97" y1="11.1" x2="431.97" y2="12.9" stroke="#3c3c3c" stroke-width="1.0" />
<line x1="348.5" y1="76" x2="350.3" y2="76" stroke="#3c3c3c" stroke-width="1.0" />
<line x1="442.4" y1="76" x2="440.6" y2="76" stroke="#3c3c3c" stroke-width="1.0" />
<line x1="348.5" y1="57.46" x2="350.3" y2="57.46" stroke="#3c3c3c" stroke-width="1.0" />
<line x1="442.4" y1="57.46" x2="440.6" y2="57.46" stroke="#3c3c3c" stroke-width="1.0" />
<line x1="348.5" y1="38.91" x2="350.3" y2="38.91" stroke="#3c3c3c" stroke-width="1.0" />
<line x1="442.4" y1="38.91" x2="440.6" y2="38.91" stroke="#3c3c3c" stroke-width="1.0" />
<line x1="348.5" y1="20.37" x2="350.3" y2="20.37" stroke="#3c3c3c" stroke-width="1.0" />
<line x1="442.4" y1="20.37" x2="440.6" y2="20.37" stroke="#3c3c3c" stroke-width="1.0" />
<text x="348.5" y="6.8" font-size="9.6" text-anchor="middle" font-weight="bold" font-style="normal" fill="#111" >0</text>
<text x="369.37" y="6.8" font-size="9.6" text-anchor="middle" font-weight="bold" font-style="normal" fill="#111" >20</text>
<text x="390.23" y="6.8" font-size="9.6" text-anchor="middle" font-weight="bold" font-style="normal" fill="#111" >40</text>
<text x="411.1" y="6.8" font-size="9.6" text-anchor="middle" font-weight="bold" font-style="normal" fill="#111" >60</text>
<text x="431.97" y="6.8" font-size="9.6" text-anchor="middle" font-weight="bold" font-style="normal" fill="#111" >80</text>
<text x="346.2" y="79.4" font-size="9.6" text-anchor="end" font-weight="bold" font-style="normal" fill="#111" >0</text>
<text x="346.2" y="60.86" font-size="9.6" text-anchor="end" font-weight="bold" font-style="normal" fill="#111" >1</text>
<text x="346.2" y="42.31" font-size="9.6" text-anchor="end" font-weight="bold" font-style="normal" fill="#111" >2</text>
<text x="346.2" y="23.77" font-size="9.6" text-anchor="end" font-weight="bold" font-style="normal" fill="#111" >3</text>
<text transform="translate(333.2,42.6) rotate(-90)" font-size="10.8" letter-spacing="0.9" font-weight="bold" text-anchor="middle" fill="#111">1/(<tspan font-style="italic" font-weight="normal">χ</tspan>-<tspan font-style="italic" font-weight="normal">χ</tspan><tspan font-size="7" font-style="italic" dy="-4.2">vv</tspan><tspan font-size="7" font-style="italic" dx="-4.5" dy="6.5">c</tspan><tspan dy="-2.3">)</tspan></text>
<line x1="526.7" y1="11.1" x2="526.7" y2="142.3" stroke="#555" stroke-width="1.0" stroke-dasharray="5.4,3.4" stroke-dashoffset="1.8"/>
<circle cx="526.8" cy="26.9" r="3.55" fill="#efb49c" stroke="#d95319" stroke-width="1.3"/>
<circle cx="538.8" cy="44.2" r="3.55" fill="#efb49c" stroke="#d95319" stroke-width="1.3"/>
<circle cx="548" cy="58" r="3.55" fill="#efb49c" stroke="#d95319" stroke-width="1.3"/>
<circle cx="555.4" cy="67.7" r="3.55" fill="#efb49c" stroke="#d95319" stroke-width="1.3"/>
<circle cx="568.1" cy="83.1" r="3.55" fill="#efb49c" stroke="#d95319" stroke-width="1.3"/>
<circle cx="577.1" cy="92.7" r="3.55" fill="#efb49c" stroke="#d95319" stroke-width="1.3"/>
<circle cx="589.5" cy="101.5" r="3.55" fill="#efb49c" stroke="#d95319" stroke-width="1.3"/>
<circle cx="602.5" cy="111" r="3.55" fill="#efb49c" stroke="#d95319" stroke-width="1.3"/>
<circle cx="616.3" cy="118.7" r="3.55" fill="#efb49c" stroke="#d95319" stroke-width="1.3"/>
<circle cx="629.2" cy="123.6" r="3.55" fill="#efb49c" stroke="#d95319" stroke-width="1.3"/>
<circle cx="643.2" cy="127.6" r="3.55" fill="#efb49c" stroke="#d95319" stroke-width="1.3"/>
<circle cx="657.3" cy="130.7" r="3.55" fill="#efb49c" stroke="#d95319" stroke-width="1.3"/>
<circle cx="672.1" cy="133.1" r="3.55" fill="#efb49c" stroke="#d95319" stroke-width="1.3"/>
<polyline points="518.9,10.8 519.9,12.4 535.3,37.7 549.8,58.3 564.5,79.1 579.2,94.8 594.6,106.2 609.1,115 623.9,121.9 638.6,126.8 653.3,129.8 668.8,132.4 677.4,133.83" fill="none" stroke="#327dc4" stroke-width="1.6" stroke-linejoin="round" />
<path d="M516.9,12.4h6M519.9,9.4v6M517.74,10.24l4.32,4.32M517.74,14.56l4.32,-4.32" stroke="#327dc4" stroke-width="1.0" fill="none"/>
<path d="M532.3,37.7h6M535.3,34.7v6M533.14,35.54l4.32,4.32M533.14,39.86l4.32,-4.32" stroke="#327dc4" stroke-width="1.0" fill="none"/>
<path d="M546.8,58.3h6M549.8,55.3v6M547.64,56.14l4.32,4.32M547.64,60.46l4.32,-4.32" stroke="#327dc4" stroke-width="1.0" fill="none"/>
<path d="M561.5,79.1h6M564.5,76.1v6M562.34,76.94l4.32,4.32M562.34,81.26l4.32,-4.32" stroke="#327dc4" stroke-width="1.0" fill="none"/>
<path d="M576.2,94.8h6M579.2,91.8v6M577.04,92.64l4.32,4.32M577.04,96.96l4.32,-4.32" stroke="#327dc4" stroke-width="1.0" fill="none"/>
<path d="M591.6,106.2h6M594.6,103.2v6M592.44,104.04l4.32,4.32M592.44,108.36l4.32,-4.32" stroke="#327dc4" stroke-width="1.0" fill="none"/>
<path d="M606.1,115h6M609.1,112v6M606.94,112.84l4.32,4.32M606.94,117.16l4.32,-4.32" stroke="#327dc4" stroke-width="1.0" fill="none"/>
<path d="M620.9,121.9h6M623.9,118.9v6M621.74,119.74l4.32,4.32M621.74,124.06l4.32,-4.32" stroke="#327dc4" stroke-width="1.0" fill="none"/>
<path d="M635.6,126.8h6M638.6,123.8v6M636.44,124.64l4.32,4.32M636.44,128.96l4.32,-4.32" stroke="#327dc4" stroke-width="1.0" fill="none"/>
<path d="M650.3,129.8h6M653.3,126.8v6M651.14,127.64l4.32,4.32M651.14,131.96l4.32,-4.32" stroke="#327dc4" stroke-width="1.0" fill="none"/>
<path d="M665.8,132.4h6M668.8,129.4v6M666.64,130.24l4.32,4.32M666.64,134.56l4.32,-4.32" stroke="#327dc4" stroke-width="1.0" fill="none"/>
<rect x="523.7" y="92.6" width="6" height="45" fill="#fff"/>
<line x1="526.7" y1="137.3" x2="526.7" y2="142" stroke="#555" stroke-width="1.0" />
<rect x="497.2" y="11.1" width="180.2" height="131.2" fill="none" stroke="#3c3c3c" stroke-width="1.0"/>
<line x1="509.71" y1="142.3" x2="509.71" y2="140.7" stroke="#3c3c3c" stroke-width="1.0" />
<line x1="509.71" y1="11.1" x2="509.71" y2="12.7" stroke="#3c3c3c" stroke-width="1.0" />
<line x1="527.09" y1="142.3" x2="527.09" y2="140.7" stroke="#3c3c3c" stroke-width="1.0" />
<line x1="527.09" y1="11.1" x2="527.09" y2="12.7" stroke="#3c3c3c" stroke-width="1.0" />
<line x1="539.42" y1="142.3" x2="539.42" y2="140.7" stroke="#3c3c3c" stroke-width="1.0" />
<line x1="539.42" y1="11.1" x2="539.42" y2="12.7" stroke="#3c3c3c" stroke-width="1.0" />
<line x1="548.99" y1="142.3" x2="548.99" y2="140.7" stroke="#3c3c3c" stroke-width="1.0" />
<line x1="548.99" y1="11.1" x2="548.99" y2="12.7" stroke="#3c3c3c" stroke-width="1.0" />
<line x1="556.8" y1="142.3" x2="556.8" y2="140.7" stroke="#3c3c3c" stroke-width="1.0" />
<line x1="556.8" y1="11.1" x2="556.8" y2="12.7" stroke="#3c3c3c" stroke-width="1.0" />
<line x1="563.41" y1="142.3" x2="563.41" y2="140.7" stroke="#3c3c3c" stroke-width="1.0" />
<line x1="563.41" y1="11.1" x2="563.41" y2="12.7" stroke="#3c3c3c" stroke-width="1.0" />
<line x1="569.13" y1="142.3" x2="569.13" y2="140.7" stroke="#3c3c3c" stroke-width="1.0" />
<line x1="569.13" y1="11.1" x2="569.13" y2="12.7" stroke="#3c3c3c" stroke-width="1.0" />
<line x1="574.18" y1="142.3" x2="574.18" y2="140.7" stroke="#3c3c3c" stroke-width="1.0" />
<line x1="574.18" y1="11.1" x2="574.18" y2="12.7" stroke="#3c3c3c" stroke-width="1.0" />
<line x1="608.41" y1="142.3" x2="608.41" y2="140.7" stroke="#3c3c3c" stroke-width="1.0" />
<line x1="608.41" y1="11.1" x2="608.41" y2="12.7" stroke="#3c3c3c" stroke-width="1.0" />
<line x1="625.79" y1="142.3" x2="625.79" y2="140.7" stroke="#3c3c3c" stroke-width="1.0" />
<line x1="625.79" y1="11.1" x2="625.79" y2="12.7" stroke="#3c3c3c" stroke-width="1.0" />
<line x1="638.12" y1="142.3" x2="638.12" y2="140.7" stroke="#3c3c3c" stroke-width="1.0" />
<line x1="638.12" y1="11.1" x2="638.12" y2="12.7" stroke="#3c3c3c" stroke-width="1.0" />
<line x1="647.69" y1="142.3" x2="647.69" y2="140.7" stroke="#3c3c3c" stroke-width="1.0" />
<line x1="647.69" y1="11.1" x2="647.69" y2="12.7" stroke="#3c3c3c" stroke-width="1.0" />
<line x1="655.5" y1="142.3" x2="655.5" y2="140.7" stroke="#3c3c3c" stroke-width="1.0" />
<line x1="655.5" y1="11.1" x2="655.5" y2="12.7" stroke="#3c3c3c" stroke-width="1.0" />
<line x1="662.11" y1="142.3" x2="662.11" y2="140.7" stroke="#3c3c3c" stroke-width="1.0" />
<line x1="662.11" y1="11.1" x2="662.11" y2="12.7" stroke="#3c3c3c" stroke-width="1.0" />
<line x1="667.83" y1="142.3" x2="667.83" y2="140.7" stroke="#3c3c3c" stroke-width="1.0" />
<line x1="667.83" y1="11.1" x2="667.83" y2="12.7" stroke="#3c3c3c" stroke-width="1.0" />
<line x1="672.88" y1="142.3" x2="672.88" y2="140.7" stroke="#3c3c3c" stroke-width="1.0" />
<line x1="672.88" y1="11.1" x2="672.88" y2="12.7" stroke="#3c3c3c" stroke-width="1.0" />
<line x1="578.7" y1="142.3" x2="578.7" y2="139.7" stroke="#3c3c3c" stroke-width="1.0" />
<line x1="578.7" y1="11.1" x2="578.7" y2="13.7" stroke="#3c3c3c" stroke-width="1.0" />
<line x1="677.4" y1="142.3" x2="677.4" y2="139.7" stroke="#3c3c3c" stroke-width="1.0" />
<line x1="677.4" y1="11.1" x2="677.4" y2="13.7" stroke="#3c3c3c" stroke-width="1.0" />
<line x1="497.2" y1="142.3" x2="499.4" y2="142.3" stroke="#3c3c3c" stroke-width="1.0" />
<line x1="677.4" y1="142.3" x2="675.2" y2="142.3" stroke="#3c3c3c" stroke-width="1.0" />
<line x1="497.2" y1="118.45" x2="499.4" y2="118.45" stroke="#3c3c3c" stroke-width="1.0" />
<line x1="677.4" y1="118.45" x2="675.2" y2="118.45" stroke="#3c3c3c" stroke-width="1.0" />
<line x1="497.2" y1="94.59" x2="499.4" y2="94.59" stroke="#3c3c3c" stroke-width="1.0" />
<line x1="677.4" y1="94.59" x2="675.2" y2="94.59" stroke="#3c3c3c" stroke-width="1.0" />
<line x1="497.2" y1="70.74" x2="499.4" y2="70.74" stroke="#3c3c3c" stroke-width="1.0" />
<line x1="677.4" y1="70.74" x2="675.2" y2="70.74" stroke="#3c3c3c" stroke-width="1.0" />
<line x1="497.2" y1="46.88" x2="499.4" y2="46.88" stroke="#3c3c3c" stroke-width="1.0" />
<line x1="677.4" y1="46.88" x2="675.2" y2="46.88" stroke="#3c3c3c" stroke-width="1.0" />
<line x1="497.2" y1="23.03" x2="499.4" y2="23.03" stroke="#3c3c3c" stroke-width="1.0" />
<line x1="677.4" y1="23.03" x2="675.2" y2="23.03" stroke="#3c3c3c" stroke-width="1.0" />
<text x="578.7" y="155.3" font-size="11" text-anchor="middle" font-weight="bold" font-style="normal" fill="#111" >10</text>
<text x="677.4" y="155.3" font-size="11" text-anchor="middle" font-weight="bold" font-style="normal" fill="#111" >100</text>
<text x="494.4" y="146.1" font-size="11" text-anchor="end" font-weight="bold" font-style="normal" fill="#111" >0</text>
<text x="494.4" y="122.25" font-size="11" text-anchor="end" font-weight="bold" font-style="normal" fill="#111" >1</text>
<text x="494.4" y="98.39" font-size="11" text-anchor="end" font-weight="bold" font-style="normal" fill="#111" >2</text>
<text x="494.4" y="74.54" font-size="11" text-anchor="end" font-weight="bold" font-style="normal" fill="#111" >3</text>
<text x="494.4" y="50.68" font-size="11" text-anchor="end" font-weight="bold" font-style="normal" fill="#111" >4</text>
<text x="494.4" y="26.83" font-size="11" text-anchor="end" font-weight="bold" font-style="normal" fill="#111" >5</text>
<text x="587.9" y="168.6" font-size="12.3" text-anchor="middle" font-weight="bold" font-style="normal" fill="#111" ><tspan font-style="italic">T</tspan> (K)</text>
<text transform="translate(504.1,41.8) scale(0.87,1)" font-size="15" font-weight="bold" font-style="italic" fill="#111">T</text>
<text x="510.7" y="44" font-size="9.8" text-anchor="start" font-weight="bold" font-style="normal" fill="#111" >cut</text>
<text x="517" y="107.8" font-size="12.2" text-anchor="start" font-weight="bold" font-style="italic" fill="#111" >B</text>
<line x1="529.6" y1="100.2" x2="529.6" y2="107.8" stroke="#333" stroke-width="0.9" />
<line x1="526.7" y1="107.5" x2="532.5" y2="107.5" stroke="#333" stroke-width="0.9" />
<text x="535.6" y="107.8" font-size="12.2" text-anchor="start" font-weight="bold" font-style="italic" fill="#111" >c</text>
<polyline points="516.6,118.3 528.6,118.3" fill="none" stroke="#327dc4" stroke-width="1.6" stroke-linejoin="round" />
<path d="M519.6,118.3h6M522.6,115.3v6M520.44,116.14l4.32,4.32M520.44,120.46l4.32,-4.32" stroke="#327dc4" stroke-width="1.0" fill="none"/>
<circle cx="522.6" cy="128" r="3.55" fill="#efb49c" stroke="#d95319" stroke-width="1.3"/>
<text x="535" y="121.2" font-size="10.2" text-anchor="start" font-weight="normal" font-style="normal" fill="#111" >XTRG</text>
<text x="535" y="131.6" font-size="10.2" text-anchor="start" font-weight="normal" font-style="normal" fill="#111" >Exp. (This work)</text>
<text x="468" y="14" font-size="16.8" text-anchor="start" font-weight="bold" font-style="normal" fill="#111" >c</text>
<text transform="translate(486.2,73.7) rotate(-90)" font-size="13" font-weight="bold" text-anchor="middle" fill="#111"><tspan font-style="italic" font-weight="normal" font-size="13">χ</tspan> (cm<tspan font-size="9.5" dy="-5">3</tspan><tspan dy="5">mol</tspan><tspan font-size="9.5" dy="-5">-1</tspan><tspan dy="5">)</tspan></text>
<rect x="583.4" y="11.1" width="94" height="64.9" fill="#fff" stroke="#3c3c3c" stroke-width="1.0"/>
<circle cx="585.8" cy="72.6" r="3.55" fill="#efb49c" stroke="#d95319" stroke-width="1.3"/>
<circle cx="591.46" cy="68.88" r="3.55" fill="#efb49c" stroke="#d95319" stroke-width="1.3"/>
<circle cx="597.12" cy="65.15" r="3.55" fill="#efb49c" stroke="#d95319" stroke-width="1.3"/>
<circle cx="602.78" cy="61.42" r="3.55" fill="#efb49c" stroke="#d95319" stroke-width="1.3"/>
<circle cx="608.44" cy="57.7" r="3.55" fill="#efb49c" stroke="#d95319" stroke-width="1.3"/>
<circle cx="614.1" cy="53.97" r="3.55" fill="#efb49c" stroke="#d95319" stroke-width="1.3"/>
<circle cx="619.76" cy="50.25" r="3.55" fill="#efb49c" stroke="#d95319" stroke-width="1.3"/>
<circle cx="625.42" cy="46.52" r="3.55" fill="#efb49c" stroke="#d95319" stroke-width="1.3"/>
<circle cx="631.08" cy="42.8" r="3.55" fill="#efb49c" stroke="#d95319" stroke-width="1.3"/>
<circle cx="636.74" cy="39.07" r="3.55" fill="#efb49c" stroke="#d95319" stroke-width="1.3"/>
<circle cx="642.4" cy="35.35" r="3.55" fill="#efb49c" stroke="#d95319" stroke-width="1.3"/>
<circle cx="648.06" cy="31.62" r="3.55" fill="#efb49c" stroke="#d95319" stroke-width="1.3"/>
<circle cx="653.72" cy="27.9" r="3.55" fill="#efb49c" stroke="#d95319" stroke-width="1.3"/>
<circle cx="659.38" cy="24.17" r="3.55" fill="#efb49c" stroke="#d95319" stroke-width="1.3"/>
<circle cx="665.04" cy="20.45" r="3.55" fill="#efb49c" stroke="#d95319" stroke-width="1.3"/>
<circle cx="670.7" cy="16.72" r="3.55" fill="#efb49c" stroke="#d95319" stroke-width="1.3"/>
<circle cx="676.36" cy="13" r="3.55" fill="#efb49c" stroke="#d95319" stroke-width="1.3"/>
<polyline points="583.4,74.99 583.71,74.78 584.03,74.57 584.44,74.29 584.97,73.93 585.49,73.58 586.09,73.18 587.16,72.46 588.8,71.36 590.92,69.93 593.95,67.89 598.75,64.66 604.6,60.73 613.48,54.76 625.7,46.54 642.93,34.95 667.9,18.17 677.4,11.77" fill="none" stroke="#327dc4" stroke-width="1.6" stroke-linejoin="round" />
<path d="M580.71,74.78h6M583.71,71.78v6M581.55,72.62l4.32,4.32M581.55,76.94l4.32,-4.32" stroke="#327dc4" stroke-width="1.0" fill="none"/>
<path d="M581.03,74.57h6M584.03,71.57v6M581.87,72.41l4.32,4.32M581.87,76.73l4.32,-4.32" stroke="#327dc4" stroke-width="1.0" fill="none"/>
<path d="M581.44,74.29h6M584.44,71.29v6M582.28,72.13l4.32,4.32M582.28,76.45l4.32,-4.32" stroke="#327dc4" stroke-width="1.0" fill="none"/>
<path d="M581.97,73.93h6M584.97,70.93v6M582.81,71.77l4.32,4.32M582.81,76.09l4.32,-4.32" stroke="#327dc4" stroke-width="1.0" fill="none"/>
<path d="M582.49,73.58h6M585.49,70.58v6M583.33,71.42l4.32,4.32M583.33,75.74l4.32,-4.32" stroke="#327dc4" stroke-width="1.0" fill="none"/>
<path d="M583.09,73.18h6M586.09,70.18v6M583.93,71.02l4.32,4.32M583.93,75.34l4.32,-4.32" stroke="#327dc4" stroke-width="1.0" fill="none"/>
<path d="M584.16,72.46h6M587.16,69.46v6M585,70.3l4.32,4.32M585,74.62l4.32,-4.32" stroke="#327dc4" stroke-width="1.0" fill="none"/>
<path d="M585.8,71.36h6M588.8,68.36v6M586.64,69.2l4.32,4.32M586.64,73.52l4.32,-4.32" stroke="#327dc4" stroke-width="1.0" fill="none"/>
<path d="M587.92,69.93h6M590.92,66.93v6M588.76,67.77l4.32,4.32M588.76,72.09l4.32,-4.32" stroke="#327dc4" stroke-width="1.0" fill="none"/>
<path d="M590.95,67.89h6M593.95,64.89v6M591.79,65.73l4.32,4.32M591.79,70.05l4.32,-4.32" stroke="#327dc4" stroke-width="1.0" fill="none"/>
<path d="M595.75,64.66h6M598.75,61.66v6M596.59,62.5l4.32,4.32M596.59,66.82l4.32,-4.32" stroke="#327dc4" stroke-width="1.0" fill="none"/>
<path d="M601.6,60.73h6M604.6,57.73v6M602.44,58.57l4.32,4.32M602.44,62.89l4.32,-4.32" stroke="#327dc4" stroke-width="1.0" fill="none"/>
<path d="M610.48,54.76h6M613.48,51.76v6M611.32,52.6l4.32,4.32M611.32,56.92l4.32,-4.32" stroke="#327dc4" stroke-width="1.0" fill="none"/>
<path d="M622.7,46.54h6M625.7,43.54v6M623.54,44.38l4.32,4.32M623.54,48.7l4.32,-4.32" stroke="#327dc4" stroke-width="1.0" fill="none"/>
<path d="M639.93,34.95h6M642.93,31.95v6M640.77,32.79l4.32,4.32M640.77,37.11l4.32,-4.32" stroke="#327dc4" stroke-width="1.0" fill="none"/>
<path d="M664.9,18.17h6M667.9,15.17v6M665.74,16.01l4.32,4.32M665.74,20.33l4.32,-4.32" stroke="#327dc4" stroke-width="1.0" fill="none"/>
<line x1="583.4" y1="76" x2="583.4" y2="74.2" stroke="#3c3c3c" stroke-width="1.0" />
<line x1="583.4" y1="11.1" x2="583.4" y2="12.9" stroke="#3c3c3c" stroke-width="1.0" />
<line x1="604.29" y1="76" x2="604.29" y2="74.2" stroke="#3c3c3c" stroke-width="1.0" />
<line x1="604.29" y1="11.1" x2="604.29" y2="12.9" stroke="#3c3c3c" stroke-width="1.0" />
<line x1="625.18" y1="76" x2="625.18" y2="74.2" stroke="#3c3c3c" stroke-width="1.0" />
<line x1="625.18" y1="11.1" x2="625.18" y2="12.9" stroke="#3c3c3c" stroke-width="1.0" />
<line x1="646.07" y1="76" x2="646.07" y2="74.2" stroke="#3c3c3c" stroke-width="1.0" />
<line x1="646.07" y1="11.1" x2="646.07" y2="12.9" stroke="#3c3c3c" stroke-width="1.0" />
<line x1="666.96" y1="76" x2="666.96" y2="74.2" stroke="#3c3c3c" stroke-width="1.0" />
<line x1="666.96" y1="11.1" x2="666.96" y2="12.9" stroke="#3c3c3c" stroke-width="1.0" />
<line x1="583.4" y1="76" x2="585.2" y2="76" stroke="#3c3c3c" stroke-width="1.0" />
<line x1="677.4" y1="76" x2="675.6" y2="76" stroke="#3c3c3c" stroke-width="1.0" />
<line x1="583.4" y1="47.16" x2="585.2" y2="47.16" stroke="#3c3c3c" stroke-width="1.0" />
<line x1="677.4" y1="47.16" x2="675.6" y2="47.16" stroke="#3c3c3c" stroke-width="1.0" />
<line x1="583.4" y1="18.31" x2="585.2" y2="18.31" stroke="#3c3c3c" stroke-width="1.0" />
<line x1="677.4" y1="18.31" x2="675.6" y2="18.31" stroke="#3c3c3c" stroke-width="1.0" />
<text x="583.4" y="6.8" font-size="9.6" text-anchor="middle" font-weight="bold" font-style="normal" fill="#111" >0</text>
<text x="604.29" y="6.8" font-size="9.6" text-anchor="middle" font-weight="bold" font-style="normal" fill="#111" >20</text>
<text x="625.18" y="6.8" font-size="9.6" text-anchor="middle" font-weight="bold" font-style="normal" fill="#111" >40</text>
<text x="646.07" y="6.8" font-size="9.6" text-anchor="middle" font-weight="bold" font-style="normal" fill="#111" >60</text>
<text x="666.96" y="6.8" font-size="9.6" text-anchor="middle" font-weight="bold" font-style="normal" fill="#111" >80</text>
<text x="581.1" y="79.4" font-size="9.6" text-anchor="end" font-weight="bold" font-style="normal" fill="#111" >0</text>
<text x="581.1" y="50.56" font-size="9.6" text-anchor="end" font-weight="bold" font-style="normal" fill="#111" >2</text>
<text x="581.1" y="21.71" font-size="9.6" text-anchor="end" font-weight="bold" font-style="normal" fill="#111" >4</text>
<text transform="translate(568.1,42.6) rotate(-90)" font-size="10.8" letter-spacing="0.9" font-weight="bold" text-anchor="middle" fill="#111">1/(<tspan font-style="italic" font-weight="normal">χ</tspan>-<tspan font-style="italic" font-weight="normal">χ</tspan><tspan font-size="7" font-style="italic" dy="-4.2">vv</tspan><tspan font-size="7" font-style="italic" dx="-7.5" dy="6.5">ab</tspan><tspan dy="-2.3">)</tspan></text>
<polyline points="63.11,277.61 89.18,277.61 94.06,276.65 99.28,273.07 104.33,264.72 111.66,255.18 123.22,243.02 136.42,225.36 143.75,215.23 149.45,198.53 208.1,198.53" fill="none" stroke="#bdbdbd" stroke-width="0.9" stroke-linejoin="round" stroke-dasharray="3.2,2.4"/>
<polyline points="63.11,277.61 98.95,277.61 106.28,276.05 113.61,268.42 119.97,256.73 127.22,247.67 134.3,239.2 141.31,232.04 147.82,220.47 155.97,203.89 160.04,198.53 208.1,198.53" fill="none" stroke="#858585" stroke-width="0.9" stroke-linejoin="round" stroke-dasharray="3.2,2.4"/>
<polyline points="63.11,277.61 110.35,277.61 118.5,274.86 126.65,268.9 135.28,256.14 143.26,247.43 151.57,239.2 158.9,229.18 168.19,216.78 175.52,203.3 178.78,198.53 208.1,198.53" fill="none" stroke="#666666" stroke-width="0.9" stroke-linejoin="round" stroke-dasharray="3.2,2.4"/>
<polyline points="63.11,277.61 118.5,277.84 126.65,277.25 136.09,274.15 144.57,256.14 154.1,244.57 162.97,235.62 171.69,225.6 181.06,208.19 187.74,198.53 208.1,198.53" fill="none" stroke="#b0b0b0" stroke-width="0.9" stroke-linejoin="round" stroke-dasharray="3.2,2.4"/>
<rect x="26.1" y="314.4" width="6.2" height="6.2" fill="#f6d79a" stroke="#ebb038" stroke-width="0.9"/>
<rect x="29.6" y="312.47" width="6.2" height="6.2" fill="#f6d79a" stroke="#ebb038" stroke-width="0.9"/>
<rect x="33.11" y="310.54" width="6.2" height="6.2" fill="#f6d79a" stroke="#ebb038" stroke-width="0.9"/>
<rect x="36.06" y="307.89" width="6.2" height="6.2" fill="#f6d79a" stroke="#ebb038" stroke-width="0.9"/>
<rect x="38.85" y="305.02" width="6.2" height="6.2" fill="#f6d79a" stroke="#ebb038" stroke-width="0.9"/>
<rect x="41.65" y="302.16" width="6.2" height="6.2" fill="#f6d79a" stroke="#ebb038" stroke-width="0.9"/>
<rect x="44.31" y="299.17" width="6.2" height="6.2" fill="#f6d79a" stroke="#ebb038" stroke-width="0.9"/>
<rect x="46.95" y="296.17" width="6.2" height="6.2" fill="#f6d79a" stroke="#ebb038" stroke-width="0.9"/>
<rect x="49.54" y="293.13" width="6.2" height="6.2" fill="#f6d79a" stroke="#ebb038" stroke-width="0.9"/>
<rect x="51.42" y="289.6" width="6.2" height="6.2" fill="#f6d79a" stroke="#ebb038" stroke-width="0.9"/>
<rect x="53.31" y="286.08" width="6.2" height="6.2" fill="#f6d79a" stroke="#ebb038" stroke-width="0.9"/>
<rect x="54.81" y="282.37" width="6.2" height="6.2" fill="#f6d79a" stroke="#ebb038" stroke-width="0.9"/>
<rect x="56.3" y="278.66" width="6.2" height="6.2" fill="#f6d79a" stroke="#ebb038" stroke-width="0.9"/>
<rect x="58.83" y="275.58" width="6.2" height="6.2" fill="#f6d79a" stroke="#ebb038" stroke-width="0.9"/>
<rect x="62.79" y="275.35" width="6.2" height="6.2" fill="#f6d79a" stroke="#ebb038" stroke-width="0.9"/>
<rect x="66.79" y="275.2" width="6.2" height="6.2" fill="#f6d79a" stroke="#ebb038" stroke-width="0.9"/>
<rect x="70.79" y="275.17" width="6.2" height="6.2" fill="#f6d79a" stroke="#ebb038" stroke-width="0.9"/>
<rect x="74.79" y="275.15" width="6.2" height="6.2" fill="#f6d79a" stroke="#ebb038" stroke-width="0.9"/>
<rect x="78.79" y="275.12" width="6.2" height="6.2" fill="#f6d79a" stroke="#ebb038" stroke-width="0.9"/>
<rect x="82.79" y="275.09" width="6.2" height="6.2" fill="#f6d79a" stroke="#ebb038" stroke-width="0.9"/>
<rect x="86.79" y="275.07" width="6.2" height="6.2" fill="#f6d79a" stroke="#ebb038" stroke-width="0.9"/>
<rect x="90.79" y="275.04" width="6.2" height="6.2" fill="#f6d79a" stroke="#ebb038" stroke-width="0.9"/>
<rect x="94.79" y="275.01" width="6.2" height="6.2" fill="#f6d79a" stroke="#ebb038" stroke-width="0.9"/>
<rect x="98.79" y="274.93" width="6.2" height="6.2" fill="#f6d79a" stroke="#ebb038" stroke-width="0.9"/>
<rect x="102.78" y="274.78" width="6.2" height="6.2" fill="#f6d79a" stroke="#ebb038" stroke-width="0.9"/>
<rect x="106.62" y="273.93" width="6.2" height="6.2" fill="#f6d79a" stroke="#ebb038" stroke-width="0.9"/>
<rect x="109.89" y="271.78" width="6.2" height="6.2" fill="#f6d79a" stroke="#ebb038" stroke-width="0.9"/>
<rect x="112.55" y="268.79" width="6.2" height="6.2" fill="#f6d79a" stroke="#ebb038" stroke-width="0.9"/>
<rect x="114.94" y="265.59" width="6.2" height="6.2" fill="#f6d79a" stroke="#ebb038" stroke-width="0.9"/>
<rect x="117.4" y="262.45" width="6.2" height="6.2" fill="#f6d79a" stroke="#ebb038" stroke-width="0.9"/>
<rect x="120.39" y="259.79" width="6.2" height="6.2" fill="#f6d79a" stroke="#ebb038" stroke-width="0.9"/>
<rect x="123.38" y="257.13" width="6.2" height="6.2" fill="#f6d79a" stroke="#ebb038" stroke-width="0.9"/>
<rect x="126.1" y="254.21" width="6.2" height="6.2" fill="#f6d79a" stroke="#ebb038" stroke-width="0.9"/>
<rect x="128.72" y="251.18" width="6.2" height="6.2" fill="#f6d79a" stroke="#ebb038" stroke-width="0.9"/>
<rect x="131.34" y="248.16" width="6.2" height="6.2" fill="#f6d79a" stroke="#ebb038" stroke-width="0.9"/>
<rect x="133.96" y="245.14" width="6.2" height="6.2" fill="#f6d79a" stroke="#ebb038" stroke-width="0.9"/>
<rect x="136.67" y="242.2" width="6.2" height="6.2" fill="#f6d79a" stroke="#ebb038" stroke-width="0.9"/>
<rect x="139.47" y="239.34" width="6.2" height="6.2" fill="#f6d79a" stroke="#ebb038" stroke-width="0.9"/>
<rect x="142.26" y="236.48" width="6.2" height="6.2" fill="#f6d79a" stroke="#ebb038" stroke-width="0.9"/>
<rect x="145.06" y="233.62" width="6.2" height="6.2" fill="#f6d79a" stroke="#ebb038" stroke-width="0.9"/>
<rect x="147.86" y="230.76" width="6.2" height="6.2" fill="#f6d79a" stroke="#ebb038" stroke-width="0.9"/>
<rect x="150.13" y="227.51" width="6.2" height="6.2" fill="#f6d79a" stroke="#ebb038" stroke-width="0.9"/>
<rect x="152.08" y="224.02" width="6.2" height="6.2" fill="#f6d79a" stroke="#ebb038" stroke-width="0.9"/>
<rect x="154.03" y="220.53" width="6.2" height="6.2" fill="#f6d79a" stroke="#ebb038" stroke-width="0.9"/>
<rect x="155.98" y="217.03" width="6.2" height="6.2" fill="#f6d79a" stroke="#ebb038" stroke-width="0.9"/>
<rect x="158.01" y="213.59" width="6.2" height="6.2" fill="#f6d79a" stroke="#ebb038" stroke-width="0.9"/>
<rect x="160.22" y="210.25" width="6.2" height="6.2" fill="#f6d79a" stroke="#ebb038" stroke-width="0.9"/>
<rect x="162.43" y="206.92" width="6.2" height="6.2" fill="#f6d79a" stroke="#ebb038" stroke-width="0.9"/>
<rect x="164.64" y="203.59" width="6.2" height="6.2" fill="#f6d79a" stroke="#ebb038" stroke-width="0.9"/>
<rect x="167.5" y="200.79" width="6.2" height="6.2" fill="#f6d79a" stroke="#ebb038" stroke-width="0.9"/>
<rect x="171.31" y="199.92" width="6.2" height="6.2" fill="#f6d79a" stroke="#ebb038" stroke-width="0.9"/>
<rect x="175.28" y="199.53" width="6.2" height="6.2" fill="#f6d79a" stroke="#ebb038" stroke-width="0.9"/>
<rect x="179.27" y="199.24" width="6.2" height="6.2" fill="#f6d79a" stroke="#ebb038" stroke-width="0.9"/>
<rect x="183.26" y="198.96" width="6.2" height="6.2" fill="#f6d79a" stroke="#ebb038" stroke-width="0.9"/>
<rect x="187.24" y="198.61" width="6.2" height="6.2" fill="#f6d79a" stroke="#ebb038" stroke-width="0.9"/>
<rect x="191.11" y="197.6" width="6.2" height="6.2" fill="#f6d79a" stroke="#ebb038" stroke-width="0.9"/>
<rect x="195.09" y="197.28" width="6.2" height="6.2" fill="#f6d79a" stroke="#ebb038" stroke-width="0.9"/>
<rect x="199.08" y="197.13" width="6.2" height="6.2" fill="#f6d79a" stroke="#ebb038" stroke-width="0.9"/>
<rect x="203.08" y="196.97" width="6.2" height="6.2" fill="#f6d79a" stroke="#ebb038" stroke-width="0.9"/>
<polygon points="95.95,276.81 91.36,274.38 91.36,279.24" fill="#bdbdbd" stroke="#bdbdbd" stroke-width="0.5"/>
<polygon points="104.09,269.57 99.5,267.14 99.5,272" fill="#bdbdbd" stroke="#bdbdbd" stroke-width="0.5"/>
<polygon points="112.24,257.94 107.65,255.51 107.65,260.37" fill="#bdbdbd" stroke="#bdbdbd" stroke-width="0.5"/>
<polygon points="120.39,248.84 115.8,246.41 115.8,251.27" fill="#bdbdbd" stroke="#bdbdbd" stroke-width="0.5"/>
<polygon points="128.53,239.53 123.94,237.1 123.94,241.96" fill="#bdbdbd" stroke="#bdbdbd" stroke-width="0.5"/>
<polygon points="136.68,228.63 132.09,226.2 132.09,231.06" fill="#bdbdbd" stroke="#bdbdbd" stroke-width="0.5"/>
<polygon points="144.82,217.48 140.23,215.05 140.23,219.91" fill="#bdbdbd" stroke="#bdbdbd" stroke-width="0.5"/>
<polygon points="152.97,198.53 148.38,196.1 148.38,200.96" fill="#bdbdbd" stroke="#bdbdbd" stroke-width="0.5"/>
<polygon points="161.11,198.53 156.52,196.1 156.52,200.96" fill="#bdbdbd" stroke="#bdbdbd" stroke-width="0.5"/>
<polygon points="169.26,198.53 164.67,196.1 164.67,200.96" fill="#bdbdbd" stroke="#bdbdbd" stroke-width="0.5"/>
<polygon points="177.4,198.53 172.81,196.1 172.81,200.96" fill="#bdbdbd" stroke="#bdbdbd" stroke-width="0.5"/>
<polygon points="185.55,198.53 180.96,196.1 180.96,200.96" fill="#bdbdbd" stroke="#bdbdbd" stroke-width="0.5"/>
<polygon points="193.69,198.53 189.1,196.1 189.1,200.96" fill="#bdbdbd" stroke="#bdbdbd" stroke-width="0.5"/>
<polygon points="201.84,198.53 197.25,196.1 197.25,200.96" fill="#bdbdbd" stroke="#bdbdbd" stroke-width="0.5"/>
<polygon points="209.99,198.53 205.4,196.1 205.4,200.96" fill="#bdbdbd" stroke="#bdbdbd" stroke-width="0.5"/>
<polygon points="100.32,276.74 104.91,274.31 104.91,279.17" fill="#858585" stroke="#858585" stroke-width="0.5"/>
<polygon points="108.47,270.97 113.06,268.54 113.06,273.4" fill="#858585" stroke="#858585" stroke-width="0.5"/>
<polygon points="116.61,257.93 121.2,255.5 121.2,260.36" fill="#858585" stroke="#858585" stroke-width="0.5"/>
<polygon points="124.76,247.38 129.35,244.95 129.35,249.81" fill="#858585" stroke="#858585" stroke-width="0.5"/>
<polygon points="132.91,237.87 137.5,235.44 137.5,240.3" fill="#858585" stroke="#858585" stroke-width="0.5"/>
<polygon points="141.05,227.7 145.64,225.27 145.64,230.13" fill="#858585" stroke="#858585" stroke-width="0.5"/>
<polygon points="149.2,212.18 153.79,209.75 153.79,214.61" fill="#858585" stroke="#858585" stroke-width="0.5"/>
<polygon points="157.34,198.53 161.93,196.1 161.93,200.96" fill="#858585" stroke="#858585" stroke-width="0.5"/>
<polygon points="165.49,198.53 170.08,196.1 170.08,200.96" fill="#858585" stroke="#858585" stroke-width="0.5"/>
<polygon points="173.63,198.53 178.22,196.1 178.22,200.96" fill="#858585" stroke="#858585" stroke-width="0.5"/>
<polygon points="181.78,198.53 186.37,196.1 186.37,200.96" fill="#858585" stroke="#858585" stroke-width="0.5"/>
<polygon points="189.92,198.53 194.51,196.1 194.51,200.96" fill="#858585" stroke="#858585" stroke-width="0.5"/>
<polygon points="198.07,198.53 202.66,196.1 202.66,200.96" fill="#858585" stroke="#858585" stroke-width="0.5"/>
<polygon points="114.43,273.53 112,278.12 116.86,278.12" fill="#666666" stroke="#666666" stroke-width="0.5"/>
<polygon points="122.57,269.18 120.14,273.77 125,273.77" fill="#666666" stroke="#666666" stroke-width="0.5"/>
<polygon points="130.72,260.18 128.29,264.77 133.15,264.77" fill="#666666" stroke="#666666" stroke-width="0.5"/>
<polygon points="138.86,249.53 136.43,254.12 141.29,254.12" fill="#666666" stroke="#666666" stroke-width="0.5"/>
<polygon points="147.01,241.02 144.58,245.61 149.44,245.61" fill="#666666" stroke="#666666" stroke-width="0.5"/>
<polygon points="155.15,231.6 152.72,236.19 157.58,236.19" fill="#666666" stroke="#666666" stroke-width="0.5"/>
<polygon points="163.3,220.6 160.87,225.19 165.73,225.19" fill="#666666" stroke="#666666" stroke-width="0.5"/>
<polygon points="171.45,208.09 169.02,212.68 173.88,212.68" fill="#666666" stroke="#666666" stroke-width="0.5"/>
<polygon points="179.59,195.83 177.16,200.42 182.02,200.42" fill="#666666" stroke="#666666" stroke-width="0.5"/>
<polygon points="187.74,195.83 185.31,200.42 190.17,200.42" fill="#666666" stroke="#666666" stroke-width="0.5"/>
<polygon points="195.88,195.83 193.45,200.42 198.31,200.42" fill="#666666" stroke="#666666" stroke-width="0.5"/>
<polygon points="204.03,195.83 201.6,200.42 206.46,200.42" fill="#666666" stroke="#666666" stroke-width="0.5"/>
<polygon points="122.57,280.25 120.14,275.66 125,275.66" fill="#b0b0b0" stroke="#b0b0b0" stroke-width="0.5"/>
<polygon points="130.72,278.61 128.29,274.02 133.15,274.02" fill="#b0b0b0" stroke="#b0b0b0" stroke-width="0.5"/>
<polygon points="138.86,270.96 136.43,266.37 141.29,266.37" fill="#b0b0b0" stroke="#b0b0b0" stroke-width="0.5"/>
<polygon points="147.01,255.87 144.58,251.28 149.44,251.28" fill="#b0b0b0" stroke="#b0b0b0" stroke-width="0.5"/>
<polygon points="155.15,246.2 152.72,241.61 157.58,241.61" fill="#b0b0b0" stroke="#b0b0b0" stroke-width="0.5"/>
<polygon points="163.3,237.95 160.87,233.36 165.73,233.36" fill="#b0b0b0" stroke="#b0b0b0" stroke-width="0.5"/>
<polygon points="171.45,228.58 169.02,223.99 173.88,223.99" fill="#b0b0b0" stroke="#b0b0b0" stroke-width="0.5"/>
<polygon points="179.59,213.61 177.16,209.02 182.02,209.02" fill="#b0b0b0" stroke="#b0b0b0" stroke-width="0.5"/>
<polygon points="187.74,201.23 185.31,196.64 190.17,196.64" fill="#b0b0b0" stroke="#b0b0b0" stroke-width="0.5"/>
<polygon points="195.88,201.23 193.45,196.64 198.31,196.64" fill="#b0b0b0" stroke="#b0b0b0" stroke-width="0.5"/>
<polygon points="204.03,201.23 201.6,196.64 206.46,196.64" fill="#b0b0b0" stroke="#b0b0b0" stroke-width="0.5"/>
<polyline points="29.2,317.5 36.8,312.9 44.7,304.5 53.3,295.2 60.5,277.4 69.9,277.6 78.1,277.7 85.5,277.7 93.3,277.7 101,277.6 109.5,277.5 118.4,277.3 126.6,260.9 134.6,251.4 142.2,242.3 150.6,233.2 158.7,223.1 166.7,208.7 173.9,198.6 183.2,198.6 191.2,198.6 199,198.6 207,198.6 208.1,198.6" fill="none" stroke="#327dc4" stroke-width="1.4" stroke-linejoin="round" />
<path d="M26.2,317.5h6M29.2,314.5v6M27.04,315.34l4.32,4.32M27.04,319.66l4.32,-4.32" stroke="#327dc4" stroke-width="1.0" fill="none"/>
<path d="M33.8,312.9h6M36.8,309.9v6M34.64,310.74l4.32,4.32M34.64,315.06l4.32,-4.32" stroke="#327dc4" stroke-width="1.0" fill="none"/>
<path d="M41.7,304.5h6M44.7,301.5v6M42.54,302.34l4.32,4.32M42.54,306.66l4.32,-4.32" stroke="#327dc4" stroke-width="1.0" fill="none"/>
<path d="M50.3,295.2h6M53.3,292.2v6M51.14,293.04l4.32,4.32M51.14,297.36l4.32,-4.32" stroke="#327dc4" stroke-width="1.0" fill="none"/>
<path d="M57.5,277.4h6M60.5,274.4v6M58.34,275.24l4.32,4.32M58.34,279.56l4.32,-4.32" stroke="#327dc4" stroke-width="1.0" fill="none"/>
<path d="M66.9,277.6h6M69.9,274.6v6M67.74,275.44l4.32,4.32M67.74,279.76l4.32,-4.32" stroke="#327dc4" stroke-width="1.0" fill="none"/>
<path d="M75.1,277.7h6M78.1,274.7v6M75.94,275.54l4.32,4.32M75.94,279.86l4.32,-4.32" stroke="#327dc4" stroke-width="1.0" fill="none"/>
<path d="M82.5,277.7h6M85.5,274.7v6M83.34,275.54l4.32,4.32M83.34,279.86l4.32,-4.32" stroke="#327dc4" stroke-width="1.0" fill="none"/>
<path d="M90.3,277.7h6M93.3,274.7v6M91.14,275.54l4.32,4.32M91.14,279.86l4.32,-4.32" stroke="#327dc4" stroke-width="1.0" fill="none"/>
<path d="M98,277.6h6M101,274.6v6M98.84,275.44l4.32,4.32M98.84,279.76l4.32,-4.32" stroke="#327dc4" stroke-width="1.0" fill="none"/>
<path d="M106.5,277.5h6M109.5,274.5v6M107.34,275.34l4.32,4.32M107.34,279.66l4.32,-4.32" stroke="#327dc4" stroke-width="1.0" fill="none"/>
<path d="M115.4,277.3h6M118.4,274.3v6M116.24,275.14l4.32,4.32M116.24,279.46l4.32,-4.32" stroke="#327dc4" stroke-width="1.0" fill="none"/>
<path d="M123.6,260.9h6M126.6,257.9v6M124.44,258.74l4.32,4.32M124.44,263.06l4.32,-4.32" stroke="#327dc4" stroke-width="1.0" fill="none"/>
<path d="M131.6,251.4h6M134.6,248.4v6M132.44,249.24l4.32,4.32M132.44,253.56l4.32,-4.32" stroke="#327dc4" stroke-width="1.0" fill="none"/>
<path d="M139.2,242.3h6M142.2,239.3v6M140.04,240.14l4.32,4.32M140.04,244.46l4.32,-4.32" stroke="#327dc4" stroke-width="1.0" fill="none"/>
<path d="M147.6,233.2h6M150.6,230.2v6M148.44,231.04l4.32,4.32M148.44,235.36l4.32,-4.32" stroke="#327dc4" stroke-width="1.0" fill="none"/>
<path d="M155.7,223.1h6M158.7,220.1v6M156.54,220.94l4.32,4.32M156.54,225.26l4.32,-4.32" stroke="#327dc4" stroke-width="1.0" fill="none"/>
<path d="M163.7,208.7h6M166.7,205.7v6M164.54,206.54l4.32,4.32M164.54,210.86l4.32,-4.32" stroke="#327dc4" stroke-width="1.0" fill="none"/>
<path d="M170.9,198.6h6M173.9,195.6v6M171.74,196.44l4.32,4.32M171.74,200.76l4.32,-4.32" stroke="#327dc4" stroke-width="1.0" fill="none"/>
<path d="M180.2,198.6h6M183.2,195.6v6M181.04,196.44l4.32,4.32M181.04,200.76l4.32,-4.32" stroke="#327dc4" stroke-width="1.0" fill="none"/>
<path d="M188.2,198.6h6M191.2,195.6v6M189.04,196.44l4.32,4.32M189.04,200.76l4.32,-4.32" stroke="#327dc4" stroke-width="1.0" fill="none"/>
<path d="M196,198.6h6M199,195.6v6M196.84,196.44l4.32,4.32M196.84,200.76l4.32,-4.32" stroke="#327dc4" stroke-width="1.0" fill="none"/>
<path d="M204,198.6h6M207,195.6v6M204.84,196.44l4.32,4.32M204.84,200.76l4.32,-4.32" stroke="#327dc4" stroke-width="1.0" fill="none"/>
<rect x="28.9" y="186.6" width="179.2" height="131.2" fill="none" stroke="#3c3c3c" stroke-width="1.0"/>
<line x1="28.9" y1="317.8" x2="28.9" y2="315.6" stroke="#3c3c3c" stroke-width="1.0" />
<line x1="28.9" y1="186.6" x2="28.9" y2="188.8" stroke="#3c3c3c" stroke-width="1.0" />
<line x1="69.63" y1="317.8" x2="69.63" y2="315.6" stroke="#3c3c3c" stroke-width="1.0" />
<line x1="69.63" y1="186.6" x2="69.63" y2="188.8" stroke="#3c3c3c" stroke-width="1.0" />
<line x1="110.35" y1="317.8" x2="110.35" y2="315.6" stroke="#3c3c3c" stroke-width="1.0" />
<line x1="110.35" y1="186.6" x2="110.35" y2="188.8" stroke="#3c3c3c" stroke-width="1.0" />
<line x1="151.08" y1="317.8" x2="151.08" y2="315.6" stroke="#3c3c3c" stroke-width="1.0" />
<line x1="151.08" y1="186.6" x2="151.08" y2="188.8" stroke="#3c3c3c" stroke-width="1.0" />
<line x1="191.81" y1="317.8" x2="191.81" y2="315.6" stroke="#3c3c3c" stroke-width="1.0" />
<line x1="191.81" y1="186.6" x2="191.81" y2="188.8" stroke="#3c3c3c" stroke-width="1.0" />
<line x1="28.9" y1="317.8" x2="31.1" y2="317.8" stroke="#3c3c3c" stroke-width="1.0" />
<line x1="208.1" y1="317.8" x2="205.9" y2="317.8" stroke="#3c3c3c" stroke-width="1.0" />
<line x1="28.9" y1="293.95" x2="31.1" y2="293.95" stroke="#3c3c3c" stroke-width="1.0" />
<line x1="208.1" y1="293.95" x2="205.9" y2="293.95" stroke="#3c3c3c" stroke-width="1.0" />
<line x1="28.9" y1="270.09" x2="31.1" y2="270.09" stroke="#3c3c3c" stroke-width="1.0" />
<line x1="208.1" y1="270.09" x2="205.9" y2="270.09" stroke="#3c3c3c" stroke-width="1.0" />
<line x1="28.9" y1="246.24" x2="31.1" y2="246.24" stroke="#3c3c3c" stroke-width="1.0" />
<line x1="208.1" y1="246.24" x2="205.9" y2="246.24" stroke="#3c3c3c" stroke-width="1.0" />
<line x1="28.9" y1="222.38" x2="31.1" y2="222.38" stroke="#3c3c3c" stroke-width="1.0" />
<line x1="208.1" y1="222.38" x2="205.9" y2="222.38" stroke="#3c3c3c" stroke-width="1.0" />
<line x1="28.9" y1="198.53" x2="31.1" y2="198.53" stroke="#3c3c3c" stroke-width="1.0" />
<line x1="208.1" y1="198.53" x2="205.9" y2="198.53" stroke="#3c3c3c" stroke-width="1.0" />
<text x="28.9" y="331" font-size="11" text-anchor="middle" font-weight="bold" font-style="normal" fill="#111" >0</text>
<text x="69.63" y="331" font-size="11" text-anchor="middle" font-weight="bold" font-style="normal" fill="#111" >0.5</text>
<text x="110.35" y="331" font-size="11" text-anchor="middle" font-weight="bold" font-style="normal" fill="#111" >1</text>
<text x="151.08" y="331" font-size="11" text-anchor="middle" font-weight="bold" font-style="normal" fill="#111" >1.5</text>
<text x="191.81" y="331" font-size="11" text-anchor="middle" font-weight="bold" font-style="normal" fill="#111" >2</text>
<text x="25.9" y="321.6" font-size="11" text-anchor="end" font-weight="bold" font-style="normal" fill="#111" >0</text>
<text x="25.9" y="297.75" font-size="11" text-anchor="end" font-weight="bold" font-style="normal" fill="#111" >0.2</text>
<text x="25.9" y="273.89" font-size="11" text-anchor="end" font-weight="bold" font-style="normal" fill="#111" >0.4</text>
<text x="25.9" y="250.04" font-size="11" text-anchor="end" font-weight="bold" font-style="normal" fill="#111" >0.6</text>
<text x="25.9" y="226.18" font-size="11" text-anchor="end" font-weight="bold" font-style="normal" fill="#111" >0.8</text>
<text x="25.9" y="202.33" font-size="11" text-anchor="end" font-weight="bold" font-style="normal" fill="#111" >1</text>
<text x="118.8" y="344.2" font-size="12.3" text-anchor="middle" font-weight="bold" font-style="normal" fill="#111" ><tspan font-style="italic">B</tspan> (Tesla)</text>
<text transform="translate(9.9,252.2) rotate(-90)" font-size="12.3" font-weight="bold" text-anchor="middle" fill="#111"><tspan font-style="italic">M</tspan> (N. U.)</text>
<text x="1.6" y="189.9" font-size="16.8" text-anchor="start" font-weight="bold" font-style="normal" fill="#111" >d</text>
<text x="42.8" y="204.9" font-size="12.2" text-anchor="start" font-weight="bold" font-style="italic" fill="#111" >B</text>
<line x1="54.4" y1="196.9" x2="54.4" y2="207.5" stroke="#333" stroke-width="0.9" />
<line x1="57.4" y1="196.9" x2="57.4" y2="207.5" stroke="#333" stroke-width="0.9" />
<text x="61.4" y="204.9" font-size="12.2" text-anchor="start" font-weight="bold" font-style="italic" fill="#111" >c</text>
<polyline points="39.9,216.8 52.3,216.8" fill="none" stroke="#327dc4" stroke-width="1.6" stroke-linejoin="round" />
<path d="M43.1,216.8h6M46.1,213.8v6M43.94,214.64l4.32,4.32M43.94,218.96l4.32,-4.32" stroke="#327dc4" stroke-width="1.0" fill="none"/>
<rect x="42.7" y="226.3" width="6.8" height="6.8" fill="#f6d79a" stroke="#ebb038" stroke-width="0.9"/>
<text x="58.4" y="219.5" font-size="10.5" text-anchor="start" font-weight="normal" font-style="normal" fill="#111" >DMRG</text>
<text x="58.4" y="232.8" font-size="10.5" text-anchor="start" font-weight="normal" font-style="normal" fill="#111" >Li, <tspan font-style="italic" font-size="9.6">et al.</tspan>, 2020</text>
<line x1="60.1" y1="256" x2="60.1" y2="268.92" stroke="#333" stroke-width="1.0" />
<polygon points="60.1,273.6 57.7,265.8 60.1,268.14 62.5,265.8" fill="#111"/>
<text x="64.3" y="265.8" font-size="11.4" text-anchor="start" font-weight="bold" font-style="normal" fill="#111" ><tspan font-style="italic">B</tspan><tspan font-size="9.6" dx="0.5" dy="2.8">c1</tspan></text>
<line x1="119.2" y1="301.3" x2="119.2" y2="288.28" stroke="#333" stroke-width="1.0" />
<polygon points="119.2,283.6 116.8,291.4 119.2,289.06 121.6,291.4" fill="#111"/>
<text x="123.6" y="298" font-size="11.4" text-anchor="start" font-weight="bold" font-style="normal" fill="#111" ><tspan font-style="italic">B</tspan><tspan font-size="9.6" dx="0.5" dy="2.8">c2</tspan></text>
<line x1="174.2" y1="246.6" x2="174.2" y2="234.28" stroke="#333" stroke-width="1.0" />
<polygon points="174.2,229.6 171.8,237.4 174.2,235.06 176.6,237.4" fill="#111"/>
<text x="179.3" y="243" font-size="11.4" text-anchor="start" font-weight="bold" font-style="normal" fill="#111" ><tspan font-style="italic">B</tspan><tspan font-size="9.6" dx="0.5" dy="2.8">c3</tspan></text>
<text x="190.8" y="263.8" font-size="12.5" text-anchor="middle" font-weight="normal" font-style="normal" fill="#111" >Δ</text>
<line x1="169.3" y1="272.2" x2="178.9" y2="272.2" stroke="#bdbdbd" stroke-width="0.9" />
<polygon points="176.5,272.2 171.91,269.77 171.91,274.63" fill="#bdbdbd" stroke="#bdbdbd" stroke-width="0.5"/>
<text x="185.3" y="275.6" font-size="10.5" text-anchor="start" font-weight="normal" font-style="normal" fill="#444" >1.4</text>
<line x1="169.3" y1="283.6" x2="178.9" y2="283.6" stroke="#858585" stroke-width="0.9" />
<polygon points="171.1,283.6 175.69,281.17 175.69,286.03" fill="#858585" stroke="#858585" stroke-width="0.5"/>
<text x="185.3" y="287" font-size="10.5" text-anchor="start" font-weight="normal" font-style="normal" fill="#444" >1.6</text>
<line x1="169.3" y1="295" x2="178.9" y2="295" stroke="#666666" stroke-width="0.9" />
<polygon points="173.8,292.3 171.37,296.89 176.23,296.89" fill="#666666" stroke="#666666" stroke-width="0.5"/>
<text x="185.3" y="298.4" font-size="10.5" text-anchor="start" font-weight="normal" font-style="normal" fill="#444" >1.8</text>
<line x1="169.3" y1="306.4" x2="178.9" y2="306.4" stroke="#b0b0b0" stroke-width="0.9" />
<polygon points="173.8,309.1 171.37,304.51 176.23,304.51" fill="#b0b0b0" stroke="#b0b0b0" stroke-width="0.5"/>
<text x="185.3" y="309.8" font-size="10.5" text-anchor="start" font-weight="normal" font-style="normal" fill="#444" >2.0</text>
<rect x="260.6" y="314.2" width="6.2" height="6.2" fill="#f6d79a" stroke="#ebb038" stroke-width="0.9"/>
<rect x="265.87" y="313.01" width="6.2" height="6.2" fill="#f6d79a" stroke="#ebb038" stroke-width="0.9"/>
<rect x="271" y="311.51" width="6.2" height="6.2" fill="#f6d79a" stroke="#ebb038" stroke-width="0.9"/>
<rect x="275.41" y="308.39" width="6.2" height="6.2" fill="#f6d79a" stroke="#ebb038" stroke-width="0.9"/>
<rect x="279.8" y="305.25" width="6.2" height="6.2" fill="#f6d79a" stroke="#ebb038" stroke-width="0.9"/>
<rect x="283.99" y="301.85" width="6.2" height="6.2" fill="#f6d79a" stroke="#ebb038" stroke-width="0.9"/>
<rect x="288.18" y="298.44" width="6.2" height="6.2" fill="#f6d79a" stroke="#ebb038" stroke-width="0.9"/>
<rect x="292.32" y="294.97" width="6.2" height="6.2" fill="#f6d79a" stroke="#ebb038" stroke-width="0.9"/>
<rect x="296.45" y="291.49" width="6.2" height="6.2" fill="#f6d79a" stroke="#ebb038" stroke-width="0.9"/>
<rect x="300.47" y="287.89" width="6.2" height="6.2" fill="#f6d79a" stroke="#ebb038" stroke-width="0.9"/>
<rect x="304.48" y="284.27" width="6.2" height="6.2" fill="#f6d79a" stroke="#ebb038" stroke-width="0.9"/>
<rect x="308.63" y="280.82" width="6.2" height="6.2" fill="#f6d79a" stroke="#ebb038" stroke-width="0.9"/>
<rect x="312.86" y="277.46" width="6.2" height="6.2" fill="#f6d79a" stroke="#ebb038" stroke-width="0.9"/>
<rect x="317.1" y="274.11" width="6.2" height="6.2" fill="#f6d79a" stroke="#ebb038" stroke-width="0.9"/>
<rect x="321.34" y="270.78" width="6.2" height="6.2" fill="#f6d79a" stroke="#ebb038" stroke-width="0.9"/>
<rect x="325.68" y="267.57" width="6.2" height="6.2" fill="#f6d79a" stroke="#ebb038" stroke-width="0.9"/>
<rect x="330.16" y="264.55" width="6.2" height="6.2" fill="#f6d79a" stroke="#ebb038" stroke-width="0.9"/>
<rect x="334.65" y="261.55" width="6.2" height="6.2" fill="#f6d79a" stroke="#ebb038" stroke-width="0.9"/>
<rect x="339.19" y="258.63" width="6.2" height="6.2" fill="#f6d79a" stroke="#ebb038" stroke-width="0.9"/>
<rect x="343.76" y="255.75" width="6.2" height="6.2" fill="#f6d79a" stroke="#ebb038" stroke-width="0.9"/>
<rect x="348.39" y="252.97" width="6.2" height="6.2" fill="#f6d79a" stroke="#ebb038" stroke-width="0.9"/>
<rect x="352.95" y="250.09" width="6.2" height="6.2" fill="#f6d79a" stroke="#ebb038" stroke-width="0.9"/>
<rect x="357.33" y="246.93" width="6.2" height="6.2" fill="#f6d79a" stroke="#ebb038" stroke-width="0.9"/>
<rect x="361.7" y="243.76" width="6.2" height="6.2" fill="#f6d79a" stroke="#ebb038" stroke-width="0.9"/>
<rect x="366.09" y="240.62" width="6.2" height="6.2" fill="#f6d79a" stroke="#ebb038" stroke-width="0.9"/>
<rect x="370.47" y="237.46" width="6.2" height="6.2" fill="#f6d79a" stroke="#ebb038" stroke-width="0.9"/>
<rect x="374.65" y="234.03" width="6.2" height="6.2" fill="#f6d79a" stroke="#ebb038" stroke-width="0.9"/>
<rect x="378.82" y="230.61" width="6.2" height="6.2" fill="#f6d79a" stroke="#ebb038" stroke-width="0.9"/>
<rect x="382.75" y="226.9" width="6.2" height="6.2" fill="#f6d79a" stroke="#ebb038" stroke-width="0.9"/>
<rect x="386.62" y="223.15" width="6.2" height="6.2" fill="#f6d79a" stroke="#ebb038" stroke-width="0.9"/>
<rect x="390.35" y="219.24" width="6.2" height="6.2" fill="#f6d79a" stroke="#ebb038" stroke-width="0.9"/>
<rect x="393.85" y="215.14" width="6.2" height="6.2" fill="#f6d79a" stroke="#ebb038" stroke-width="0.9"/>
<rect x="397.09" y="210.82" width="6.2" height="6.2" fill="#f6d79a" stroke="#ebb038" stroke-width="0.9"/>
<rect x="400.64" y="206.75" width="6.2" height="6.2" fill="#f6d79a" stroke="#ebb038" stroke-width="0.9"/>
<rect x="404.61" y="203.09" width="6.2" height="6.2" fill="#f6d79a" stroke="#ebb038" stroke-width="0.9"/>
<rect x="409.2" y="200.29" width="6.2" height="6.2" fill="#f6d79a" stroke="#ebb038" stroke-width="0.9"/>
<rect x="414.26" y="198.45" width="6.2" height="6.2" fill="#f6d79a" stroke="#ebb038" stroke-width="0.9"/>
<rect x="419.54" y="197.41" width="6.2" height="6.2" fill="#f6d79a" stroke="#ebb038" stroke-width="0.9"/>
<rect x="424.9" y="196.76" width="6.2" height="6.2" fill="#f6d79a" stroke="#ebb038" stroke-width="0.9"/>
<rect x="430.29" y="196.55" width="6.2" height="6.2" fill="#f6d79a" stroke="#ebb038" stroke-width="0.9"/>
<rect x="435.69" y="196.44" width="6.2" height="6.2" fill="#f6d79a" stroke="#ebb038" stroke-width="0.9"/>
<polyline points="263.7,317.3 272.4,313.3 281.6,306.8 290.1,299.9 298.9,292.5 308.1,284.2 317.3,276.9 326.1,270 335.3,262.6 343.8,256.9 353.1,251.1 362.3,244.2 371.2,237.6 380.4,229.8 389.1,221.1 397.7,210.7 406.4,201 415.9,199.5 425.1,199.2 434.3,199.2 442.2,199.2" fill="none" stroke="#327dc4" stroke-width="1.4" stroke-linejoin="round" />
<path d="M260.7,317.3h6M263.7,314.3v6M261.54,315.14l4.32,4.32M261.54,319.46l4.32,-4.32" stroke="#327dc4" stroke-width="1.0" fill="none"/>
<path d="M269.4,313.3h6M272.4,310.3v6M270.24,311.14l4.32,4.32M270.24,315.46l4.32,-4.32" stroke="#327dc4" stroke-width="1.0" fill="none"/>
<path d="M278.6,306.8h6M281.6,303.8v6M279.44,304.64l4.32,4.32M279.44,308.96l4.32,-4.32" stroke="#327dc4" stroke-width="1.0" fill="none"/>
<path d="M287.1,299.9h6M290.1,296.9v6M287.94,297.74l4.32,4.32M287.94,302.06l4.32,-4.32" stroke="#327dc4" stroke-width="1.0" fill="none"/>
<path d="M295.9,292.5h6M298.9,289.5v6M296.74,290.34l4.32,4.32M296.74,294.66l4.32,-4.32" stroke="#327dc4" stroke-width="1.0" fill="none"/>
<path d="M305.1,284.2h6M308.1,281.2v6M305.94,282.04l4.32,4.32M305.94,286.36l4.32,-4.32" stroke="#327dc4" stroke-width="1.0" fill="none"/>
<path d="M314.3,276.9h6M317.3,273.9v6M315.14,274.74l4.32,4.32M315.14,279.06l4.32,-4.32" stroke="#327dc4" stroke-width="1.0" fill="none"/>
<path d="M323.1,270h6M326.1,267v6M323.94,267.84l4.32,4.32M323.94,272.16l4.32,-4.32" stroke="#327dc4" stroke-width="1.0" fill="none"/>
<path d="M332.3,262.6h6M335.3,259.6v6M333.14,260.44l4.32,4.32M333.14,264.76l4.32,-4.32" stroke="#327dc4" stroke-width="1.0" fill="none"/>
<path d="M340.8,256.9h6M343.8,253.9v6M341.64,254.74l4.32,4.32M341.64,259.06l4.32,-4.32" stroke="#327dc4" stroke-width="1.0" fill="none"/>
<path d="M350.1,251.1h6M353.1,248.1v6M350.94,248.94l4.32,4.32M350.94,253.26l4.32,-4.32" stroke="#327dc4" stroke-width="1.0" fill="none"/>
<path d="M359.3,244.2h6M362.3,241.2v6M360.14,242.04l4.32,4.32M360.14,246.36l4.32,-4.32" stroke="#327dc4" stroke-width="1.0" fill="none"/>
<path d="M368.2,237.6h6M371.2,234.6v6M369.04,235.44l4.32,4.32M369.04,239.76l4.32,-4.32" stroke="#327dc4" stroke-width="1.0" fill="none"/>
<path d="M377.4,229.8h6M380.4,226.8v6M378.24,227.64l4.32,4.32M378.24,231.96l4.32,-4.32" stroke="#327dc4" stroke-width="1.0" fill="none"/>
<path d="M386.1,221.1h6M389.1,218.1v6M386.94,218.94l4.32,4.32M386.94,223.26l4.32,-4.32" stroke="#327dc4" stroke-width="1.0" fill="none"/>
<path d="M394.7,210.7h6M397.7,207.7v6M395.54,208.54l4.32,4.32M395.54,212.86l4.32,-4.32" stroke="#327dc4" stroke-width="1.0" fill="none"/>
<path d="M403.4,201h6M406.4,198v6M404.24,198.84l4.32,4.32M404.24,203.16l4.32,-4.32" stroke="#327dc4" stroke-width="1.0" fill="none"/>
<path d="M412.9,199.5h6M415.9,196.5v6M413.74,197.34l4.32,4.32M413.74,201.66l4.32,-4.32" stroke="#327dc4" stroke-width="1.0" fill="none"/>
<path d="M422.1,199.2h6M425.1,196.2v6M422.94,197.04l4.32,4.32M422.94,201.36l4.32,-4.32" stroke="#327dc4" stroke-width="1.0" fill="none"/>
<path d="M431.3,199.2h6M434.3,196.2v6M432.14,197.04l4.32,4.32M432.14,201.36l4.32,-4.32" stroke="#327dc4" stroke-width="1.0" fill="none"/>
<path d="M439.2,199.2h6M442.2,196.2v6M440.04,197.04l4.32,4.32M440.04,201.36l4.32,-4.32" stroke="#327dc4" stroke-width="1.0" fill="none"/>
<rect x="263.8" y="186.6" width="178.6" height="131.2" fill="none" stroke="#3c3c3c" stroke-width="1.0"/>
<line x1="263.8" y1="317.8" x2="263.8" y2="315.6" stroke="#3c3c3c" stroke-width="1.0" />
<line x1="263.8" y1="186.6" x2="263.8" y2="188.8" stroke="#3c3c3c" stroke-width="1.0" />
<line x1="308.45" y1="317.8" x2="308.45" y2="315.6" stroke="#3c3c3c" stroke-width="1.0" />
<line x1="308.45" y1="186.6" x2="308.45" y2="188.8" stroke="#3c3c3c" stroke-width="1.0" />
<line x1="353.1" y1="317.8" x2="353.1" y2="315.6" stroke="#3c3c3c" stroke-width="1.0" />
<line x1="353.1" y1="186.6" x2="353.1" y2="188.8" stroke="#3c3c3c" stroke-width="1.0" />
<line x1="397.75" y1="317.8" x2="397.75" y2="315.6" stroke="#3c3c3c" stroke-width="1.0" />
<line x1="397.75" y1="186.6" x2="397.75" y2="188.8" stroke="#3c3c3c" stroke-width="1.0" />
<line x1="442.4" y1="317.8" x2="442.4" y2="315.6" stroke="#3c3c3c" stroke-width="1.0" />
<line x1="442.4" y1="186.6" x2="442.4" y2="188.8" stroke="#3c3c3c" stroke-width="1.0" />
<line x1="263.8" y1="317.8" x2="266" y2="317.8" stroke="#3c3c3c" stroke-width="1.0" />
<line x1="442.4" y1="317.8" x2="440.2" y2="317.8" stroke="#3c3c3c" stroke-width="1.0" />
<line x1="263.8" y1="293.95" x2="266" y2="293.95" stroke="#3c3c3c" stroke-width="1.0" />
<line x1="442.4" y1="293.95" x2="440.2" y2="293.95" stroke="#3c3c3c" stroke-width="1.0" />
<line x1="263.8" y1="270.09" x2="266" y2="270.09" stroke="#3c3c3c" stroke-width="1.0" />
<line x1="442.4" y1="270.09" x2="440.2" y2="270.09" stroke="#3c3c3c" stroke-width="1.0" />
<line x1="263.8" y1="246.24" x2="266" y2="246.24" stroke="#3c3c3c" stroke-width="1.0" />
<line x1="442.4" y1="246.24" x2="440.2" y2="246.24" stroke="#3c3c3c" stroke-width="1.0" />
<line x1="263.8" y1="222.38" x2="266" y2="222.38" stroke="#3c3c3c" stroke-width="1.0" />
<line x1="442.4" y1="222.38" x2="440.2" y2="222.38" stroke="#3c3c3c" stroke-width="1.0" />
<line x1="263.8" y1="198.53" x2="266" y2="198.53" stroke="#3c3c3c" stroke-width="1.0" />
<line x1="442.4" y1="198.53" x2="440.2" y2="198.53" stroke="#3c3c3c" stroke-width="1.0" />
<text x="263.8" y="331" font-size="11" text-anchor="middle" font-weight="bold" font-style="normal" fill="#111" >0</text>
<text x="308.45" y="331" font-size="11" text-anchor="middle" font-weight="bold" font-style="normal" fill="#111" >0.5</text>
<text x="353.1" y="331" font-size="11" text-anchor="middle" font-weight="bold" font-style="normal" fill="#111" >1</text>
<text x="397.75" y="331" font-size="11" text-anchor="middle" font-weight="bold" font-style="normal" fill="#111" >1.5</text>
<text x="442.4" y="331" font-size="11" text-anchor="middle" font-weight="bold" font-style="normal" fill="#111" >2</text>
<text x="260.8" y="321.6" font-size="11" text-anchor="end" font-weight="bold" font-style="normal" fill="#111" >0</text>
<text x="260.8" y="297.75" font-size="11" text-anchor="end" font-weight="bold" font-style="normal" fill="#111" >0.2</text>
<text x="260.8" y="273.89" font-size="11" text-anchor="end" font-weight="bold" font-style="normal" fill="#111" >0.4</text>
<text x="260.8" y="250.04" font-size="11" text-anchor="end" font-weight="bold" font-style="normal" fill="#111" >0.6</text>
<text x="260.8" y="226.18" font-size="11" text-anchor="end" font-weight="bold" font-style="normal" fill="#111" >0.8</text>
<text x="260.8" y="202.33" font-size="11" text-anchor="end" font-weight="bold" font-style="normal" fill="#111" >1</text>
<text x="353.4" y="344.2" font-size="12.3" text-anchor="middle" font-weight="bold" font-style="normal" fill="#111" ><tspan font-style="italic">B</tspan> (Tesla)</text>
<text transform="translate(244.8,252.2) rotate(-90)" font-size="12.3" font-weight="bold" text-anchor="middle" fill="#111"><tspan font-style="italic">M</tspan> (N. U.)</text>
<text x="233.6" y="189.9" font-size="16.8" text-anchor="start" font-weight="bold" font-style="normal" fill="#111" >e</text>
<text x="277.9" y="204.9" font-size="12.2" text-anchor="start" font-weight="bold" font-style="italic" fill="#111" >B</text>
<line x1="289.5" y1="196.9" x2="289.5" y2="207.5" stroke="#333" stroke-width="0.9" />
<line x1="292.5" y1="196.9" x2="292.5" y2="207.5" stroke="#333" stroke-width="0.9" />
<text x="296.5" y="204.9" font-size="12.2" text-anchor="start" font-weight="bold" font-style="italic" fill="#111" >a</text>
<polyline points="274.6,216.8 287,216.8" fill="none" stroke="#327dc4" stroke-width="1.6" stroke-linejoin="round" />
<path d="M277.8,216.8h6M280.8,213.8v6M278.64,214.64l4.32,4.32M278.64,218.96l4.32,-4.32" stroke="#327dc4" stroke-width="1.0" fill="none"/>
<rect x="277.4" y="226.3" width="6.8" height="6.8" fill="#f6d79a" stroke="#ebb038" stroke-width="0.9"/>
<text x="293.1" y="219.5" font-size="10.5" text-anchor="start" font-weight="normal" font-style="normal" fill="#111" >DMRG</text>
<text x="293.1" y="232.8" font-size="10.5" text-anchor="start" font-weight="normal" font-style="normal" fill="#111" >Li, <tspan font-style="italic" font-size="9.6">et al.</tspan>, 2020</text>
<line x1="268.5" y1="290.7" x2="268.5" y2="301.52" stroke="#333" stroke-width="1.0" />
<polygon points="268.5,306.2 266.1,298.4 268.5,300.74 270.9,298.4" fill="#111"/>
<text x="268.6" y="287.2" font-size="11.4" text-anchor="start" font-weight="bold" font-style="normal" fill="#111" ><tspan font-style="italic">B</tspan><tspan font-size="9.6" dx="0.5" dy="2.8">a1</tspan></text>
<line x1="332.4" y1="291.9" x2="332.4" y2="278.88" stroke="#333" stroke-width="1.0" />
<polygon points="332.4,274.2 330,282 332.4,279.66 334.8,282" fill="#111"/>
<text x="337.2" y="291.9" font-size="11.4" text-anchor="start" font-weight="bold" font-style="normal" fill="#111" ><tspan font-style="italic">B</tspan><tspan font-size="9.6" dx="0.5" dy="2.8">a2</tspan></text>
<line x1="407.2" y1="235.5" x2="407.2" y2="224.58" stroke="#333" stroke-width="1.0" />
<polygon points="407.2,219.9 404.8,227.7 407.2,225.36 409.6,227.7" fill="#111"/>
<text x="411.8" y="231.8" font-size="11.4" text-anchor="start" font-weight="bold" font-style="normal" fill="#111" ><tspan font-style="italic">B</tspan><tspan font-size="9.6" dx="0.5" dy="2.8">a3</tspan></text>
<line x1="501.7" y1="192.67" x2="677.4" y2="192.67" stroke="#e4e4e4" stroke-width="1" />
<line x1="501.7" y1="223.98" x2="677.4" y2="223.98" stroke="#e4e4e4" stroke-width="1" />
<line x1="501.7" y1="255.29" x2="677.4" y2="255.29" stroke="#e4e4e4" stroke-width="1" />
<line x1="501.7" y1="286.6" x2="677.4" y2="286.6" stroke="#e4e4e4" stroke-width="1" />
<line x1="523.4" y1="233.4" x2="523.4" y2="233.9" stroke="#222" stroke-width="1" />
<line x1="523.4" y1="236.6" x2="523.4" y2="238.4" stroke="#222" stroke-width="1" />
<line x1="518.1" y1="233.4" x2="528.7" y2="233.4" stroke="#222" stroke-width="1" />
<line x1="518.1" y1="238.4" x2="528.7" y2="238.4" stroke="#222" stroke-width="1" />
<rect x="512.3" y="233.9" width="22.2" height="2.7" fill="none" stroke="#4a5fd0" stroke-width="0.9"/>
<line x1="512.3" y1="235.2" x2="534.5" y2="235.2" stroke="#f06060" stroke-width="1.1" />
<line x1="567.4" y1="191.2" x2="567.4" y2="191.8" stroke="#222" stroke-width="1" />
<line x1="567.4" y1="193.6" x2="567.4" y2="195.4" stroke="#222" stroke-width="1" />
<line x1="562.1" y1="191.2" x2="572.7" y2="191.2" stroke="#222" stroke-width="1" />
<line x1="562.1" y1="195.4" x2="572.7" y2="195.4" stroke="#222" stroke-width="1" />
<rect x="556.3" y="191.8" width="22.2" height="1.8" fill="none" stroke="#4a5fd0" stroke-width="0.9"/>
<line x1="556.3" y1="192.7" x2="578.5" y2="192.7" stroke="#f06060" stroke-width="1.1" />
<line x1="611.4" y1="283.7" x2="611.4" y2="286.9" stroke="#222" stroke-width="1" />
<line x1="611.4" y1="295.4" x2="611.4" y2="299.4" stroke="#222" stroke-width="1" />
<line x1="606.1" y1="283.7" x2="616.7" y2="283.7" stroke="#222" stroke-width="1" />
<line x1="606.1" y1="299.4" x2="616.7" y2="299.4" stroke="#222" stroke-width="1" />
<rect x="600.3" y="286.9" width="22.2" height="8.5" fill="none" stroke="#4a5fd0" stroke-width="0.9"/>
<line x1="600.3" y1="290.8" x2="622.5" y2="290.8" stroke="#f06060" stroke-width="1.1" />
<line x1="655.4" y1="279.3" x2="655.4" y2="282.7" stroke="#222" stroke-width="1" />
<line x1="655.4" y1="286.1" x2="655.4" y2="286.4" stroke="#222" stroke-width="1" />
<line x1="650.1" y1="279.3" x2="660.7" y2="279.3" stroke="#222" stroke-width="1" />
<line x1="650.1" y1="286.4" x2="660.7" y2="286.4" stroke="#222" stroke-width="1" />
<rect x="644.3" y="282.7" width="22.2" height="3.4" fill="none" stroke="#4a5fd0" stroke-width="0.9"/>
<line x1="644.3" y1="284.5" x2="666.5" y2="284.5" stroke="#f06060" stroke-width="1.1" />
<rect x="501.7" y="186.5" width="175.7" height="131.5" fill="none" stroke="#3c3c3c" stroke-width="1.0"/>
<line x1="523.4" y1="318" x2="523.4" y2="315.8" stroke="#3c3c3c" stroke-width="1.0" />
<line x1="523.4" y1="186.5" x2="523.4" y2="188.7" stroke="#3c3c3c" stroke-width="1.0" />
<line x1="567.4" y1="318" x2="567.4" y2="315.8" stroke="#3c3c3c" stroke-width="1.0" />
<line x1="567.4" y1="186.5" x2="567.4" y2="188.7" stroke="#3c3c3c" stroke-width="1.0" />
<line x1="611.4" y1="318" x2="611.4" y2="315.8" stroke="#3c3c3c" stroke-width="1.0" />
<line x1="611.4" y1="186.5" x2="611.4" y2="188.7" stroke="#3c3c3c" stroke-width="1.0" />
<line x1="655.4" y1="318" x2="655.4" y2="315.8" stroke="#3c3c3c" stroke-width="1.0" />
<line x1="655.4" y1="186.5" x2="655.4" y2="188.7" stroke="#3c3c3c" stroke-width="1.0" />
<line x1="501.7" y1="317.91" x2="503.9" y2="317.91" stroke="#3c3c3c" stroke-width="1.0" />
<line x1="677.4" y1="317.91" x2="675.2" y2="317.91" stroke="#3c3c3c" stroke-width="1.0" />
<line x1="501.7" y1="286.6" x2="503.9" y2="286.6" stroke="#3c3c3c" stroke-width="1.0" />
<line x1="677.4" y1="286.6" x2="675.2" y2="286.6" stroke="#3c3c3c" stroke-width="1.0" />
<line x1="501.7" y1="255.29" x2="503.9" y2="255.29" stroke="#3c3c3c" stroke-width="1.0" />
<line x1="677.4" y1="255.29" x2="675.2" y2="255.29" stroke="#3c3c3c" stroke-width="1.0" />
<line x1="501.7" y1="223.98" x2="503.9" y2="223.98" stroke="#3c3c3c" stroke-width="1.0" />
<line x1="677.4" y1="223.98" x2="675.2" y2="223.98" stroke="#3c3c3c" stroke-width="1.0" />
<line x1="501.7" y1="192.67" x2="503.9" y2="192.67" stroke="#3c3c3c" stroke-width="1.0" />
<line x1="677.4" y1="192.67" x2="675.2" y2="192.67" stroke="#3c3c3c" stroke-width="1.0" />
<text x="498.7" y="321.71" font-size="11" text-anchor="end" font-weight="bold" font-style="normal" fill="#111" >-0.5</text>
<text x="498.7" y="290.4" font-size="11" text-anchor="end" font-weight="bold" font-style="normal" fill="#111" >0</text>
<text x="498.7" y="259.09" font-size="11" text-anchor="end" font-weight="bold" font-style="normal" fill="#111" >0.5</text>
<text x="498.7" y="227.78" font-size="11" text-anchor="end" font-weight="bold" font-style="normal" fill="#111" >1</text>
<text x="498.7" y="196.47" font-size="11" text-anchor="end" font-weight="bold" font-style="normal" fill="#111" >1.5</text>
<text x="467.8" y="189.8" font-size="16.8" text-anchor="start" font-weight="bold" font-style="normal" fill="#111" >f</text>
<text transform="translate(477.2,256.7) rotate(-90)" font-size="11.9" font-weight="bold" text-anchor="middle" fill="#111">Coupling strength (K)</text>
<text x="519.2" y="329.7" font-size="12.2" text-anchor="start" font-weight="bold" font-style="normal" fill="#111" ><tspan font-style="italic">J</tspan><tspan font-size="8.7" dy="5.4">xy</tspan></text>
<text x="563.2" y="329.7" font-size="12.2" text-anchor="start" font-weight="bold" font-style="normal" fill="#111" ><tspan font-style="italic">J</tspan><tspan font-size="8.7" dy="5.4">z</tspan></text>
<text x="607.2" y="329.7" font-size="12.2" text-anchor="start" font-weight="bold" font-style="normal" fill="#111" ><tspan font-style="italic">J</tspan><tspan font-size="8.7" dy="5.4">PD</tspan></text>
<text x="651.2" y="329.7" font-size="12.2" text-anchor="start" font-weight="bold" font-style="normal" fill="#111" ><tspan font-style="italic">J</tspan><tspan font-size="8.7" dy="5.4" font-weight="normal">Γ</tspan></text>
</svg>
</body></html>
